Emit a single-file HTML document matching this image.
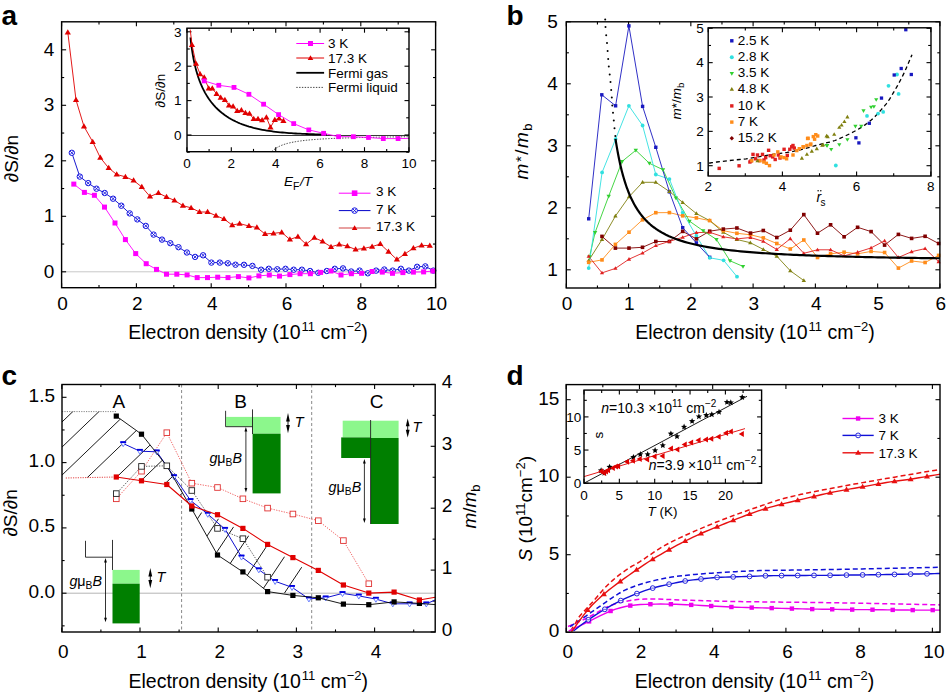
<!DOCTYPE html><html><head><meta charset="utf-8"><style>html,body{margin:0;padding:0;background:#fff;}svg{display:block;}</style></head><body>
<svg width="946" height="693" viewBox="0 0 946 693" font-family='"Liberation Sans", sans-serif'>
<rect width="946" height="693" fill="#fff"/>
<text x="1.5" y="25" font-size="28" text-anchor="start" font-weight="bold" font-style="normal" fill="#000" >a</text>
<line x1="61.6" y1="271.8" x2="435.6" y2="271.8" stroke="#c8c8c8" stroke-width="1" />
<line x1="61.6" y1="287.7" x2="61.6" y2="283.2" stroke="#000" stroke-width="1.1" />
<line x1="61.6" y1="21.8" x2="61.6" y2="26.3" stroke="#000" stroke-width="1.1" />
<line x1="136.4" y1="287.7" x2="136.4" y2="283.2" stroke="#000" stroke-width="1.1" />
<line x1="136.4" y1="21.8" x2="136.4" y2="26.3" stroke="#000" stroke-width="1.1" />
<line x1="211.2" y1="287.7" x2="211.2" y2="283.2" stroke="#000" stroke-width="1.1" />
<line x1="211.2" y1="21.8" x2="211.2" y2="26.3" stroke="#000" stroke-width="1.1" />
<line x1="286" y1="287.7" x2="286" y2="283.2" stroke="#000" stroke-width="1.1" />
<line x1="286" y1="21.8" x2="286" y2="26.3" stroke="#000" stroke-width="1.1" />
<line x1="360.8" y1="287.7" x2="360.8" y2="283.2" stroke="#000" stroke-width="1.1" />
<line x1="360.8" y1="21.8" x2="360.8" y2="26.3" stroke="#000" stroke-width="1.1" />
<line x1="435.6" y1="287.7" x2="435.6" y2="283.2" stroke="#000" stroke-width="1.1" />
<line x1="435.6" y1="21.8" x2="435.6" y2="26.3" stroke="#000" stroke-width="1.1" />
<line x1="99" y1="287.7" x2="99" y2="285.1" stroke="#000" stroke-width="1.1" />
<line x1="99" y1="21.8" x2="99" y2="24.4" stroke="#000" stroke-width="1.1" />
<line x1="173.8" y1="287.7" x2="173.8" y2="285.1" stroke="#000" stroke-width="1.1" />
<line x1="173.8" y1="21.8" x2="173.8" y2="24.4" stroke="#000" stroke-width="1.1" />
<line x1="248.6" y1="287.7" x2="248.6" y2="285.1" stroke="#000" stroke-width="1.1" />
<line x1="248.6" y1="21.8" x2="248.6" y2="24.4" stroke="#000" stroke-width="1.1" />
<line x1="323.4" y1="287.7" x2="323.4" y2="285.1" stroke="#000" stroke-width="1.1" />
<line x1="323.4" y1="21.8" x2="323.4" y2="24.4" stroke="#000" stroke-width="1.1" />
<line x1="398.2" y1="287.7" x2="398.2" y2="285.1" stroke="#000" stroke-width="1.1" />
<line x1="398.2" y1="21.8" x2="398.2" y2="24.4" stroke="#000" stroke-width="1.1" />
<line x1="61.6" y1="271.8" x2="66.1" y2="271.8" stroke="#000" stroke-width="1.1" />
<line x1="435.6" y1="271.8" x2="431.1" y2="271.8" stroke="#000" stroke-width="1.1" />
<line x1="61.6" y1="216.3" x2="66.1" y2="216.3" stroke="#000" stroke-width="1.1" />
<line x1="435.6" y1="216.3" x2="431.1" y2="216.3" stroke="#000" stroke-width="1.1" />
<line x1="61.6" y1="160.8" x2="66.1" y2="160.8" stroke="#000" stroke-width="1.1" />
<line x1="435.6" y1="160.8" x2="431.1" y2="160.8" stroke="#000" stroke-width="1.1" />
<line x1="61.6" y1="105.3" x2="66.1" y2="105.3" stroke="#000" stroke-width="1.1" />
<line x1="435.6" y1="105.3" x2="431.1" y2="105.3" stroke="#000" stroke-width="1.1" />
<line x1="61.6" y1="49.8" x2="66.1" y2="49.8" stroke="#000" stroke-width="1.1" />
<line x1="435.6" y1="49.8" x2="431.1" y2="49.8" stroke="#000" stroke-width="1.1" />
<line x1="61.6" y1="244.05" x2="64.2" y2="244.05" stroke="#000" stroke-width="1.1" />
<line x1="435.6" y1="244.05" x2="433" y2="244.05" stroke="#000" stroke-width="1.1" />
<line x1="61.6" y1="188.55" x2="64.2" y2="188.55" stroke="#000" stroke-width="1.1" />
<line x1="435.6" y1="188.55" x2="433" y2="188.55" stroke="#000" stroke-width="1.1" />
<line x1="61.6" y1="133.05" x2="64.2" y2="133.05" stroke="#000" stroke-width="1.1" />
<line x1="435.6" y1="133.05" x2="433" y2="133.05" stroke="#000" stroke-width="1.1" />
<line x1="61.6" y1="77.55" x2="64.2" y2="77.55" stroke="#000" stroke-width="1.1" />
<line x1="435.6" y1="77.55" x2="433" y2="77.55" stroke="#000" stroke-width="1.1" />
<text x="62.6" y="309.5" font-size="19" text-anchor="middle" font-weight="normal" font-style="normal" fill="#000" >0</text>
<text x="137.4" y="309.5" font-size="19" text-anchor="middle" font-weight="normal" font-style="normal" fill="#000" >2</text>
<text x="212.2" y="309.5" font-size="19" text-anchor="middle" font-weight="normal" font-style="normal" fill="#000" >4</text>
<text x="287" y="309.5" font-size="19" text-anchor="middle" font-weight="normal" font-style="normal" fill="#000" >6</text>
<text x="361.8" y="309.5" font-size="19" text-anchor="middle" font-weight="normal" font-style="normal" fill="#000" >8</text>
<text x="436.6" y="309.5" font-size="19" text-anchor="middle" font-weight="normal" font-style="normal" fill="#000" >10</text>
<text x="54.3" y="277.8" font-size="19" text-anchor="end" font-weight="normal" font-style="normal" fill="#000" >0</text>
<text x="54.3" y="222.3" font-size="19" text-anchor="end" font-weight="normal" font-style="normal" fill="#000" >1</text>
<text x="54.3" y="166.8" font-size="19" text-anchor="end" font-weight="normal" font-style="normal" fill="#000" >2</text>
<text x="54.3" y="111.3" font-size="19" text-anchor="end" font-weight="normal" font-style="normal" fill="#000" >3</text>
<text x="54.3" y="55.8" font-size="19" text-anchor="end" font-weight="normal" font-style="normal" fill="#000" >4</text>
<text x="0" y="0" font-size="19" text-anchor="middle" font-weight="normal" font-style="normal" fill="#000" transform="translate(18.2,158.5) rotate(-90)"><tspan font-style="italic">∂</tspan>S/<tspan font-style="italic">∂</tspan>n</text>
<text x="248" y="338.5" font-size="19.5" text-anchor="middle">Electron density (10<tspan dx="1" dy="-8" font-size="13">11</tspan><tspan dy="8"> cm</tspan><tspan dy="-8" font-size="13">−2</tspan><tspan dy="8">)</tspan></text>
<polyline points="67.8,32.3 76,100 84,126.5 92.7,141.8 100.3,157.7 108.7,168 116.7,174.5 125.4,176.8 133.6,180.5 141.8,187 150,196.5 158.4,193 166.5,197 174.5,200.4 182.9,205.7 191.1,207.8 199.5,212 207.6,212 216,215.7 224,219 232.2,225.1 239.6,223.6 248.9,226 256.9,227.5 265.1,234 273.5,233.3 281.7,232.4 289.9,239.5 297.9,236.6 306.1,244.2 314.4,237.7 322.6,241.5 331,246.8 339.2,244.4 347.4,246.2 355.6,249.5 363.9,248.4 372.1,246.6 380.3,244 388.5,251.7 396.9,259.5 404.9,253.9 413.4,248.2 421.6,245.3 429.8,245.7" fill="none" stroke="#e00000" stroke-width="0.9" stroke-linejoin="round" />
<polyline points="71.8,152.8 79.8,176.6 88.2,183.1 96.5,188.7 104.7,193 113.1,198.7 121.3,205.7 129.7,213.4 137.3,219.4 145.8,225.9 153.6,234.6 162,239.6 170.3,243.2 178.5,247.2 186.9,252.5 195.1,256.9 203.1,255.3 211.4,262.6 219.8,262.6 227.8,263.3 235.5,264.7 244,264.8 252.4,265.9 261.1,269.7 268.8,268.8 277.3,269.3 285.5,268.8 293.7,269.7 301.9,269.7 310.1,271 318.3,272.8 326.8,271 334.8,268.8 343,268.4 351.2,271.5 359.6,270.6 367.8,273.3 376.1,270.6 384.3,269.5 392.7,270.6 400.9,268.8 408.9,270.6 417.1,266.8 425.3,266.4 433.3,270.6" fill="none" stroke="#0000c8" stroke-width="0.9" stroke-linejoin="round" />
<polyline points="73.8,184.1 84.4,192.4 94.4,195.3 104.5,207.1 115,223 125.4,239.6 135.7,253.6 146.2,263.7 156.5,269.4 166.5,274.2 176.8,274.2 187.1,274.9 197.2,277.6 207.5,277.6 217.7,277.2 228,277.6 238.4,276.6 248.9,277.9 258.9,275.9 269.3,275 279.5,276.1 289.9,274.6 300.1,273.7 310.4,273.7 320.6,272.4 331,271 341,275 351.4,273.7 361.6,273.3 372.1,271.5 382.3,272.1 392.5,273.3 402.9,272.6 413.4,272.1 423.6,271.9 432.9,271" fill="none" stroke="#ff00ff" stroke-width="0.9" stroke-linejoin="round" />
<path d="M67.8,29.14 L70.9,34.41 L64.7,34.41 Z" stroke="none" stroke-width="1" fill="#e00000" />
<path d="M76,96.84 L79.1,102.11 L72.9,102.11 Z" stroke="none" stroke-width="1" fill="#e00000" />
<path d="M84,123.34 L87.1,128.61 L80.9,128.61 Z" stroke="none" stroke-width="1" fill="#e00000" />
<path d="M92.7,138.64 L95.8,143.91 L89.6,143.91 Z" stroke="none" stroke-width="1" fill="#e00000" />
<path d="M100.3,154.54 L103.4,159.81 L97.2,159.81 Z" stroke="none" stroke-width="1" fill="#e00000" />
<path d="M108.7,164.84 L111.8,170.11 L105.6,170.11 Z" stroke="none" stroke-width="1" fill="#e00000" />
<path d="M116.7,171.34 L119.8,176.61 L113.6,176.61 Z" stroke="none" stroke-width="1" fill="#e00000" />
<path d="M125.4,173.64 L128.5,178.91 L122.3,178.91 Z" stroke="none" stroke-width="1" fill="#e00000" />
<path d="M133.6,177.34 L136.7,182.61 L130.5,182.61 Z" stroke="none" stroke-width="1" fill="#e00000" />
<path d="M141.8,183.84 L144.9,189.11 L138.7,189.11 Z" stroke="none" stroke-width="1" fill="#e00000" />
<path d="M150,193.34 L153.1,198.61 L146.9,198.61 Z" stroke="none" stroke-width="1" fill="#e00000" />
<path d="M158.4,189.84 L161.5,195.11 L155.3,195.11 Z" stroke="none" stroke-width="1" fill="#e00000" />
<path d="M166.5,193.84 L169.6,199.11 L163.4,199.11 Z" stroke="none" stroke-width="1" fill="#e00000" />
<path d="M174.5,197.24 L177.6,202.51 L171.4,202.51 Z" stroke="none" stroke-width="1" fill="#e00000" />
<path d="M182.9,202.54 L186,207.81 L179.8,207.81 Z" stroke="none" stroke-width="1" fill="#e00000" />
<path d="M191.1,204.64 L194.2,209.91 L188,209.91 Z" stroke="none" stroke-width="1" fill="#e00000" />
<path d="M199.5,208.84 L202.6,214.11 L196.4,214.11 Z" stroke="none" stroke-width="1" fill="#e00000" />
<path d="M207.6,208.84 L210.7,214.11 L204.5,214.11 Z" stroke="none" stroke-width="1" fill="#e00000" />
<path d="M216,212.54 L219.1,217.81 L212.9,217.81 Z" stroke="none" stroke-width="1" fill="#e00000" />
<path d="M224,215.84 L227.1,221.11 L220.9,221.11 Z" stroke="none" stroke-width="1" fill="#e00000" />
<path d="M232.2,221.94 L235.3,227.21 L229.1,227.21 Z" stroke="none" stroke-width="1" fill="#e00000" />
<path d="M239.6,220.44 L242.7,225.71 L236.5,225.71 Z" stroke="none" stroke-width="1" fill="#e00000" />
<path d="M248.9,222.84 L252,228.11 L245.8,228.11 Z" stroke="none" stroke-width="1" fill="#e00000" />
<path d="M256.9,224.34 L260,229.61 L253.8,229.61 Z" stroke="none" stroke-width="1" fill="#e00000" />
<path d="M265.1,230.84 L268.2,236.11 L262,236.11 Z" stroke="none" stroke-width="1" fill="#e00000" />
<path d="M273.5,230.14 L276.6,235.41 L270.4,235.41 Z" stroke="none" stroke-width="1" fill="#e00000" />
<path d="M281.7,229.24 L284.8,234.51 L278.6,234.51 Z" stroke="none" stroke-width="1" fill="#e00000" />
<path d="M289.9,236.34 L293,241.61 L286.8,241.61 Z" stroke="none" stroke-width="1" fill="#e00000" />
<path d="M297.9,233.44 L301,238.71 L294.8,238.71 Z" stroke="none" stroke-width="1" fill="#e00000" />
<path d="M306.1,241.04 L309.2,246.31 L303,246.31 Z" stroke="none" stroke-width="1" fill="#e00000" />
<path d="M314.4,234.54 L317.5,239.81 L311.3,239.81 Z" stroke="none" stroke-width="1" fill="#e00000" />
<path d="M322.6,238.34 L325.7,243.61 L319.5,243.61 Z" stroke="none" stroke-width="1" fill="#e00000" />
<path d="M331,243.64 L334.1,248.91 L327.9,248.91 Z" stroke="none" stroke-width="1" fill="#e00000" />
<path d="M339.2,241.24 L342.3,246.51 L336.1,246.51 Z" stroke="none" stroke-width="1" fill="#e00000" />
<path d="M347.4,243.04 L350.5,248.31 L344.3,248.31 Z" stroke="none" stroke-width="1" fill="#e00000" />
<path d="M355.6,246.34 L358.7,251.61 L352.5,251.61 Z" stroke="none" stroke-width="1" fill="#e00000" />
<path d="M363.9,245.24 L367,250.51 L360.8,250.51 Z" stroke="none" stroke-width="1" fill="#e00000" />
<path d="M372.1,243.44 L375.2,248.71 L369,248.71 Z" stroke="none" stroke-width="1" fill="#e00000" />
<path d="M380.3,240.84 L383.4,246.11 L377.2,246.11 Z" stroke="none" stroke-width="1" fill="#e00000" />
<path d="M388.5,248.54 L391.6,253.81 L385.4,253.81 Z" stroke="none" stroke-width="1" fill="#e00000" />
<path d="M396.9,256.34 L400,261.61 L393.8,261.61 Z" stroke="none" stroke-width="1" fill="#e00000" />
<path d="M404.9,250.74 L408,256.01 L401.8,256.01 Z" stroke="none" stroke-width="1" fill="#e00000" />
<path d="M413.4,245.04 L416.5,250.31 L410.3,250.31 Z" stroke="none" stroke-width="1" fill="#e00000" />
<path d="M421.6,242.14 L424.7,247.41 L418.5,247.41 Z" stroke="none" stroke-width="1" fill="#e00000" />
<path d="M429.8,242.54 L432.9,247.81 L426.7,247.81 Z" stroke="none" stroke-width="1" fill="#e00000" />
<circle cx="71.8" cy="152.8" r="2.7" fill="#fff" stroke="#1010e0" stroke-width="1.0"/>
<path d="M70.13,151.13L73.47,154.47M73.47,151.13L70.13,154.47" stroke="#1010e0" stroke-width="0.9" fill="none" />
<circle cx="79.8" cy="176.6" r="2.7" fill="#fff" stroke="#1010e0" stroke-width="1.0"/>
<path d="M78.13,174.93L81.47,178.27M81.47,174.93L78.13,178.27" stroke="#1010e0" stroke-width="0.9" fill="none" />
<circle cx="88.2" cy="183.1" r="2.7" fill="#fff" stroke="#1010e0" stroke-width="1.0"/>
<path d="M86.53,181.43L89.87,184.77M89.87,181.43L86.53,184.77" stroke="#1010e0" stroke-width="0.9" fill="none" />
<circle cx="96.5" cy="188.7" r="2.7" fill="#fff" stroke="#1010e0" stroke-width="1.0"/>
<path d="M94.83,187.03L98.17,190.37M98.17,187.03L94.83,190.37" stroke="#1010e0" stroke-width="0.9" fill="none" />
<circle cx="104.7" cy="193" r="2.7" fill="#fff" stroke="#1010e0" stroke-width="1.0"/>
<path d="M103.03,191.33L106.37,194.67M106.37,191.33L103.03,194.67" stroke="#1010e0" stroke-width="0.9" fill="none" />
<circle cx="113.1" cy="198.7" r="2.7" fill="#fff" stroke="#1010e0" stroke-width="1.0"/>
<path d="M111.43,197.03L114.77,200.37M114.77,197.03L111.43,200.37" stroke="#1010e0" stroke-width="0.9" fill="none" />
<circle cx="121.3" cy="205.7" r="2.7" fill="#fff" stroke="#1010e0" stroke-width="1.0"/>
<path d="M119.63,204.03L122.97,207.37M122.97,204.03L119.63,207.37" stroke="#1010e0" stroke-width="0.9" fill="none" />
<circle cx="129.7" cy="213.4" r="2.7" fill="#fff" stroke="#1010e0" stroke-width="1.0"/>
<path d="M128.03,211.73L131.37,215.07M131.37,211.73L128.03,215.07" stroke="#1010e0" stroke-width="0.9" fill="none" />
<circle cx="137.3" cy="219.4" r="2.7" fill="#fff" stroke="#1010e0" stroke-width="1.0"/>
<path d="M135.63,217.73L138.97,221.07M138.97,217.73L135.63,221.07" stroke="#1010e0" stroke-width="0.9" fill="none" />
<circle cx="145.8" cy="225.9" r="2.7" fill="#fff" stroke="#1010e0" stroke-width="1.0"/>
<path d="M144.13,224.23L147.47,227.57M147.47,224.23L144.13,227.57" stroke="#1010e0" stroke-width="0.9" fill="none" />
<circle cx="153.6" cy="234.6" r="2.7" fill="#fff" stroke="#1010e0" stroke-width="1.0"/>
<path d="M151.93,232.93L155.27,236.27M155.27,232.93L151.93,236.27" stroke="#1010e0" stroke-width="0.9" fill="none" />
<circle cx="162" cy="239.6" r="2.7" fill="#fff" stroke="#1010e0" stroke-width="1.0"/>
<path d="M160.33,237.93L163.67,241.27M163.67,237.93L160.33,241.27" stroke="#1010e0" stroke-width="0.9" fill="none" />
<circle cx="170.3" cy="243.2" r="2.7" fill="#fff" stroke="#1010e0" stroke-width="1.0"/>
<path d="M168.63,241.53L171.97,244.87M171.97,241.53L168.63,244.87" stroke="#1010e0" stroke-width="0.9" fill="none" />
<circle cx="178.5" cy="247.2" r="2.7" fill="#fff" stroke="#1010e0" stroke-width="1.0"/>
<path d="M176.83,245.53L180.17,248.87M180.17,245.53L176.83,248.87" stroke="#1010e0" stroke-width="0.9" fill="none" />
<circle cx="186.9" cy="252.5" r="2.7" fill="#fff" stroke="#1010e0" stroke-width="1.0"/>
<path d="M185.23,250.83L188.57,254.17M188.57,250.83L185.23,254.17" stroke="#1010e0" stroke-width="0.9" fill="none" />
<circle cx="195.1" cy="256.9" r="2.7" fill="#fff" stroke="#1010e0" stroke-width="1.0"/>
<path d="M193.43,255.23L196.77,258.57M196.77,255.23L193.43,258.57" stroke="#1010e0" stroke-width="0.9" fill="none" />
<circle cx="203.1" cy="255.3" r="2.7" fill="#fff" stroke="#1010e0" stroke-width="1.0"/>
<path d="M201.43,253.63L204.77,256.97M204.77,253.63L201.43,256.97" stroke="#1010e0" stroke-width="0.9" fill="none" />
<circle cx="211.4" cy="262.6" r="2.7" fill="#fff" stroke="#1010e0" stroke-width="1.0"/>
<path d="M209.73,260.93L213.07,264.27M213.07,260.93L209.73,264.27" stroke="#1010e0" stroke-width="0.9" fill="none" />
<circle cx="219.8" cy="262.6" r="2.7" fill="#fff" stroke="#1010e0" stroke-width="1.0"/>
<path d="M218.13,260.93L221.47,264.27M221.47,260.93L218.13,264.27" stroke="#1010e0" stroke-width="0.9" fill="none" />
<circle cx="227.8" cy="263.3" r="2.7" fill="#fff" stroke="#1010e0" stroke-width="1.0"/>
<path d="M226.13,261.63L229.47,264.97M229.47,261.63L226.13,264.97" stroke="#1010e0" stroke-width="0.9" fill="none" />
<circle cx="235.5" cy="264.7" r="2.7" fill="#fff" stroke="#1010e0" stroke-width="1.0"/>
<path d="M233.83,263.03L237.17,266.37M237.17,263.03L233.83,266.37" stroke="#1010e0" stroke-width="0.9" fill="none" />
<circle cx="244" cy="264.8" r="2.7" fill="#fff" stroke="#1010e0" stroke-width="1.0"/>
<path d="M242.33,263.13L245.67,266.47M245.67,263.13L242.33,266.47" stroke="#1010e0" stroke-width="0.9" fill="none" />
<circle cx="252.4" cy="265.9" r="2.7" fill="#fff" stroke="#1010e0" stroke-width="1.0"/>
<path d="M250.73,264.23L254.07,267.57M254.07,264.23L250.73,267.57" stroke="#1010e0" stroke-width="0.9" fill="none" />
<circle cx="261.1" cy="269.7" r="2.7" fill="#fff" stroke="#1010e0" stroke-width="1.0"/>
<path d="M259.43,268.03L262.77,271.37M262.77,268.03L259.43,271.37" stroke="#1010e0" stroke-width="0.9" fill="none" />
<circle cx="268.8" cy="268.8" r="2.7" fill="#fff" stroke="#1010e0" stroke-width="1.0"/>
<path d="M267.13,267.13L270.47,270.47M270.47,267.13L267.13,270.47" stroke="#1010e0" stroke-width="0.9" fill="none" />
<circle cx="277.3" cy="269.3" r="2.7" fill="#fff" stroke="#1010e0" stroke-width="1.0"/>
<path d="M275.63,267.63L278.97,270.97M278.97,267.63L275.63,270.97" stroke="#1010e0" stroke-width="0.9" fill="none" />
<circle cx="285.5" cy="268.8" r="2.7" fill="#fff" stroke="#1010e0" stroke-width="1.0"/>
<path d="M283.83,267.13L287.17,270.47M287.17,267.13L283.83,270.47" stroke="#1010e0" stroke-width="0.9" fill="none" />
<circle cx="293.7" cy="269.7" r="2.7" fill="#fff" stroke="#1010e0" stroke-width="1.0"/>
<path d="M292.03,268.03L295.37,271.37M295.37,268.03L292.03,271.37" stroke="#1010e0" stroke-width="0.9" fill="none" />
<circle cx="301.9" cy="269.7" r="2.7" fill="#fff" stroke="#1010e0" stroke-width="1.0"/>
<path d="M300.23,268.03L303.57,271.37M303.57,268.03L300.23,271.37" stroke="#1010e0" stroke-width="0.9" fill="none" />
<circle cx="310.1" cy="271" r="2.7" fill="#fff" stroke="#1010e0" stroke-width="1.0"/>
<path d="M308.43,269.33L311.77,272.67M311.77,269.33L308.43,272.67" stroke="#1010e0" stroke-width="0.9" fill="none" />
<circle cx="318.3" cy="272.8" r="2.7" fill="#fff" stroke="#1010e0" stroke-width="1.0"/>
<path d="M316.63,271.13L319.97,274.47M319.97,271.13L316.63,274.47" stroke="#1010e0" stroke-width="0.9" fill="none" />
<circle cx="326.8" cy="271" r="2.7" fill="#fff" stroke="#1010e0" stroke-width="1.0"/>
<path d="M325.13,269.33L328.47,272.67M328.47,269.33L325.13,272.67" stroke="#1010e0" stroke-width="0.9" fill="none" />
<circle cx="334.8" cy="268.8" r="2.7" fill="#fff" stroke="#1010e0" stroke-width="1.0"/>
<path d="M333.13,267.13L336.47,270.47M336.47,267.13L333.13,270.47" stroke="#1010e0" stroke-width="0.9" fill="none" />
<circle cx="343" cy="268.4" r="2.7" fill="#fff" stroke="#1010e0" stroke-width="1.0"/>
<path d="M341.33,266.73L344.67,270.07M344.67,266.73L341.33,270.07" stroke="#1010e0" stroke-width="0.9" fill="none" />
<circle cx="351.2" cy="271.5" r="2.7" fill="#fff" stroke="#1010e0" stroke-width="1.0"/>
<path d="M349.53,269.83L352.87,273.17M352.87,269.83L349.53,273.17" stroke="#1010e0" stroke-width="0.9" fill="none" />
<circle cx="359.6" cy="270.6" r="2.7" fill="#fff" stroke="#1010e0" stroke-width="1.0"/>
<path d="M357.93,268.93L361.27,272.27M361.27,268.93L357.93,272.27" stroke="#1010e0" stroke-width="0.9" fill="none" />
<circle cx="367.8" cy="273.3" r="2.7" fill="#fff" stroke="#1010e0" stroke-width="1.0"/>
<path d="M366.13,271.63L369.47,274.97M369.47,271.63L366.13,274.97" stroke="#1010e0" stroke-width="0.9" fill="none" />
<circle cx="376.1" cy="270.6" r="2.7" fill="#fff" stroke="#1010e0" stroke-width="1.0"/>
<path d="M374.43,268.93L377.77,272.27M377.77,268.93L374.43,272.27" stroke="#1010e0" stroke-width="0.9" fill="none" />
<circle cx="384.3" cy="269.5" r="2.7" fill="#fff" stroke="#1010e0" stroke-width="1.0"/>
<path d="M382.63,267.83L385.97,271.17M385.97,267.83L382.63,271.17" stroke="#1010e0" stroke-width="0.9" fill="none" />
<circle cx="392.7" cy="270.6" r="2.7" fill="#fff" stroke="#1010e0" stroke-width="1.0"/>
<path d="M391.03,268.93L394.37,272.27M394.37,268.93L391.03,272.27" stroke="#1010e0" stroke-width="0.9" fill="none" />
<circle cx="400.9" cy="268.8" r="2.7" fill="#fff" stroke="#1010e0" stroke-width="1.0"/>
<path d="M399.23,267.13L402.57,270.47M402.57,267.13L399.23,270.47" stroke="#1010e0" stroke-width="0.9" fill="none" />
<circle cx="408.9" cy="270.6" r="2.7" fill="#fff" stroke="#1010e0" stroke-width="1.0"/>
<path d="M407.23,268.93L410.57,272.27M410.57,268.93L407.23,272.27" stroke="#1010e0" stroke-width="0.9" fill="none" />
<circle cx="417.1" cy="266.8" r="2.7" fill="#fff" stroke="#1010e0" stroke-width="1.0"/>
<path d="M415.43,265.13L418.77,268.47M418.77,265.13L415.43,268.47" stroke="#1010e0" stroke-width="0.9" fill="none" />
<circle cx="425.3" cy="266.4" r="2.7" fill="#fff" stroke="#1010e0" stroke-width="1.0"/>
<path d="M423.63,264.73L426.97,268.07M426.97,264.73L423.63,268.07" stroke="#1010e0" stroke-width="0.9" fill="none" />
<circle cx="433.3" cy="270.6" r="2.7" fill="#fff" stroke="#1010e0" stroke-width="1.0"/>
<path d="M431.63,268.93L434.97,272.27M434.97,268.93L431.63,272.27" stroke="#1010e0" stroke-width="0.9" fill="none" />
<rect x="71.3" y="181.6" width="5" height="5" fill="#ff00ff" stroke="none" stroke-width="0.8"/>
<rect x="81.9" y="189.9" width="5" height="5" fill="#ff00ff" stroke="none" stroke-width="0.8"/>
<rect x="91.9" y="192.8" width="5" height="5" fill="#ff00ff" stroke="none" stroke-width="0.8"/>
<rect x="102" y="204.6" width="5" height="5" fill="#ff00ff" stroke="none" stroke-width="0.8"/>
<rect x="112.5" y="220.5" width="5" height="5" fill="#ff00ff" stroke="none" stroke-width="0.8"/>
<rect x="122.9" y="237.1" width="5" height="5" fill="#ff00ff" stroke="none" stroke-width="0.8"/>
<rect x="133.2" y="251.1" width="5" height="5" fill="#ff00ff" stroke="none" stroke-width="0.8"/>
<rect x="143.7" y="261.2" width="5" height="5" fill="#ff00ff" stroke="none" stroke-width="0.8"/>
<rect x="154" y="266.9" width="5" height="5" fill="#ff00ff" stroke="none" stroke-width="0.8"/>
<rect x="164" y="271.7" width="5" height="5" fill="#ff00ff" stroke="none" stroke-width="0.8"/>
<rect x="174.3" y="271.7" width="5" height="5" fill="#ff00ff" stroke="none" stroke-width="0.8"/>
<rect x="184.6" y="272.4" width="5" height="5" fill="#ff00ff" stroke="none" stroke-width="0.8"/>
<rect x="194.7" y="275.1" width="5" height="5" fill="#ff00ff" stroke="none" stroke-width="0.8"/>
<rect x="205" y="275.1" width="5" height="5" fill="#ff00ff" stroke="none" stroke-width="0.8"/>
<rect x="215.2" y="274.7" width="5" height="5" fill="#ff00ff" stroke="none" stroke-width="0.8"/>
<rect x="225.5" y="275.1" width="5" height="5" fill="#ff00ff" stroke="none" stroke-width="0.8"/>
<rect x="235.9" y="274.1" width="5" height="5" fill="#ff00ff" stroke="none" stroke-width="0.8"/>
<rect x="246.4" y="275.4" width="5" height="5" fill="#ff00ff" stroke="none" stroke-width="0.8"/>
<rect x="256.4" y="273.4" width="5" height="5" fill="#ff00ff" stroke="none" stroke-width="0.8"/>
<rect x="266.8" y="272.5" width="5" height="5" fill="#ff00ff" stroke="none" stroke-width="0.8"/>
<rect x="277" y="273.6" width="5" height="5" fill="#ff00ff" stroke="none" stroke-width="0.8"/>
<rect x="287.4" y="272.1" width="5" height="5" fill="#ff00ff" stroke="none" stroke-width="0.8"/>
<rect x="297.6" y="271.2" width="5" height="5" fill="#ff00ff" stroke="none" stroke-width="0.8"/>
<rect x="307.9" y="271.2" width="5" height="5" fill="#ff00ff" stroke="none" stroke-width="0.8"/>
<rect x="318.1" y="269.9" width="5" height="5" fill="#ff00ff" stroke="none" stroke-width="0.8"/>
<rect x="328.5" y="268.5" width="5" height="5" fill="#ff00ff" stroke="none" stroke-width="0.8"/>
<rect x="338.5" y="272.5" width="5" height="5" fill="#ff00ff" stroke="none" stroke-width="0.8"/>
<rect x="348.9" y="271.2" width="5" height="5" fill="#ff00ff" stroke="none" stroke-width="0.8"/>
<rect x="359.1" y="270.8" width="5" height="5" fill="#ff00ff" stroke="none" stroke-width="0.8"/>
<rect x="369.6" y="269" width="5" height="5" fill="#ff00ff" stroke="none" stroke-width="0.8"/>
<rect x="379.8" y="269.6" width="5" height="5" fill="#ff00ff" stroke="none" stroke-width="0.8"/>
<rect x="390" y="270.8" width="5" height="5" fill="#ff00ff" stroke="none" stroke-width="0.8"/>
<rect x="400.4" y="270.1" width="5" height="5" fill="#ff00ff" stroke="none" stroke-width="0.8"/>
<rect x="410.9" y="269.6" width="5" height="5" fill="#ff00ff" stroke="none" stroke-width="0.8"/>
<rect x="421.1" y="269.4" width="5" height="5" fill="#ff00ff" stroke="none" stroke-width="0.8"/>
<rect x="430.4" y="268.5" width="5" height="5" fill="#ff00ff" stroke="none" stroke-width="0.8"/>
<line x1="338.8" y1="193.2" x2="370.5" y2="193.2" stroke="#ff00ff" stroke-width="1" />
<rect x="351.8" y="190.4" width="5.6" height="5.6" fill="#ff00ff" stroke="none" stroke-width="0.8"/>
<text x="376" y="196.1" font-size="13.5" text-anchor="start" font-weight="normal" font-style="normal" fill="#000" >3 K</text>
<line x1="338.8" y1="210.6" x2="370.5" y2="210.6" stroke="#0000c8" stroke-width="1" />
<circle cx="354.6" cy="210.6" r="2.8" fill="#fff" stroke="#1010e0" stroke-width="1.0"/>
<path d="M352.86,208.86L356.34,212.34M356.34,208.86L352.86,212.34" stroke="#1010e0" stroke-width="0.9" fill="none" />
<text x="376" y="213.5" font-size="13.5" text-anchor="start" font-weight="normal" font-style="normal" fill="#000" >7 K</text>
<line x1="338.8" y1="228" x2="370.5" y2="228" stroke="#e08080" stroke-width="1.6" />
<path d="M354.6,225.14 L357.4,229.9 L351.8,229.9 Z" stroke="none" stroke-width="1" fill="#e00000" />
<text x="376" y="230.9" font-size="13.5" text-anchor="start" font-weight="normal" font-style="normal" fill="#000" >17.3 K</text>
<rect x="187" y="28.2" width="222" height="123.5" fill="#fff" stroke="none" stroke-width="1"/>
<line x1="187" y1="135.5" x2="409" y2="135.5" stroke="#222" stroke-width="0.9" />
<line x1="186.9" y1="151.7" x2="186.9" y2="147.2" stroke="#000" stroke-width="1.1" />
<line x1="186.9" y1="28.2" x2="186.9" y2="32.7" stroke="#000" stroke-width="1.1" />
<line x1="231.3" y1="151.7" x2="231.3" y2="147.2" stroke="#000" stroke-width="1.1" />
<line x1="231.3" y1="28.2" x2="231.3" y2="32.7" stroke="#000" stroke-width="1.1" />
<line x1="275.7" y1="151.7" x2="275.7" y2="147.2" stroke="#000" stroke-width="1.1" />
<line x1="275.7" y1="28.2" x2="275.7" y2="32.7" stroke="#000" stroke-width="1.1" />
<line x1="320.1" y1="151.7" x2="320.1" y2="147.2" stroke="#000" stroke-width="1.1" />
<line x1="320.1" y1="28.2" x2="320.1" y2="32.7" stroke="#000" stroke-width="1.1" />
<line x1="364.5" y1="151.7" x2="364.5" y2="147.2" stroke="#000" stroke-width="1.1" />
<line x1="364.5" y1="28.2" x2="364.5" y2="32.7" stroke="#000" stroke-width="1.1" />
<line x1="408.9" y1="151.7" x2="408.9" y2="147.2" stroke="#000" stroke-width="1.1" />
<line x1="408.9" y1="28.2" x2="408.9" y2="32.7" stroke="#000" stroke-width="1.1" />
<line x1="209.1" y1="151.7" x2="209.1" y2="148.9" stroke="#000" stroke-width="1.1" />
<line x1="209.1" y1="28.2" x2="209.1" y2="31" stroke="#000" stroke-width="1.1" />
<line x1="253.5" y1="151.7" x2="253.5" y2="148.9" stroke="#000" stroke-width="1.1" />
<line x1="253.5" y1="28.2" x2="253.5" y2="31" stroke="#000" stroke-width="1.1" />
<line x1="297.9" y1="151.7" x2="297.9" y2="148.9" stroke="#000" stroke-width="1.1" />
<line x1="297.9" y1="28.2" x2="297.9" y2="31" stroke="#000" stroke-width="1.1" />
<line x1="342.3" y1="151.7" x2="342.3" y2="148.9" stroke="#000" stroke-width="1.1" />
<line x1="342.3" y1="28.2" x2="342.3" y2="31" stroke="#000" stroke-width="1.1" />
<line x1="386.7" y1="151.7" x2="386.7" y2="148.9" stroke="#000" stroke-width="1.1" />
<line x1="386.7" y1="28.2" x2="386.7" y2="31" stroke="#000" stroke-width="1.1" />
<line x1="187" y1="135" x2="191.5" y2="135" stroke="#000" stroke-width="1.1" />
<line x1="409" y1="135" x2="404.5" y2="135" stroke="#000" stroke-width="1.1" />
<line x1="187" y1="100.6" x2="191.5" y2="100.6" stroke="#000" stroke-width="1.1" />
<line x1="409" y1="100.6" x2="404.5" y2="100.6" stroke="#000" stroke-width="1.1" />
<line x1="187" y1="66.2" x2="191.5" y2="66.2" stroke="#000" stroke-width="1.1" />
<line x1="409" y1="66.2" x2="404.5" y2="66.2" stroke="#000" stroke-width="1.1" />
<line x1="187" y1="31.8" x2="191.5" y2="31.8" stroke="#000" stroke-width="1.1" />
<line x1="409" y1="31.8" x2="404.5" y2="31.8" stroke="#000" stroke-width="1.1" />
<line x1="187" y1="152.2" x2="189.8" y2="152.2" stroke="#000" stroke-width="1.1" />
<line x1="409" y1="152.2" x2="406.2" y2="152.2" stroke="#000" stroke-width="1.1" />
<line x1="187" y1="117.8" x2="189.8" y2="117.8" stroke="#000" stroke-width="1.1" />
<line x1="409" y1="117.8" x2="406.2" y2="117.8" stroke="#000" stroke-width="1.1" />
<line x1="187" y1="83.4" x2="189.8" y2="83.4" stroke="#000" stroke-width="1.1" />
<line x1="409" y1="83.4" x2="406.2" y2="83.4" stroke="#000" stroke-width="1.1" />
<line x1="187" y1="49" x2="189.8" y2="49" stroke="#000" stroke-width="1.1" />
<line x1="409" y1="49" x2="406.2" y2="49" stroke="#000" stroke-width="1.1" />
<text x="186.9" y="167.6" font-size="13.5" text-anchor="middle" font-weight="normal" font-style="normal" fill="#000" >0</text>
<text x="231.3" y="167.6" font-size="13.5" text-anchor="middle" font-weight="normal" font-style="normal" fill="#000" >2</text>
<text x="275.7" y="167.6" font-size="13.5" text-anchor="middle" font-weight="normal" font-style="normal" fill="#000" >4</text>
<text x="320.1" y="167.6" font-size="13.5" text-anchor="middle" font-weight="normal" font-style="normal" fill="#000" >6</text>
<text x="364.5" y="167.6" font-size="13.5" text-anchor="middle" font-weight="normal" font-style="normal" fill="#000" >8</text>
<text x="408.9" y="167.6" font-size="13.5" text-anchor="middle" font-weight="normal" font-style="normal" fill="#000" >10</text>
<text x="181.5" y="139.8" font-size="13.5" text-anchor="end" font-weight="normal" font-style="normal" fill="#000" >0</text>
<text x="181.5" y="105.4" font-size="13.5" text-anchor="end" font-weight="normal" font-style="normal" fill="#000" >1</text>
<text x="181.5" y="71" font-size="13.5" text-anchor="end" font-weight="normal" font-style="normal" fill="#000" >2</text>
<text x="181.5" y="36.6" font-size="13.5" text-anchor="end" font-weight="normal" font-style="normal" fill="#000" >3</text>
<text x="0" y="0" font-size="13.5" text-anchor="middle" font-weight="normal" font-style="normal" fill="#000" transform="translate(164.5,90.6) rotate(-90)"><tspan font-style="italic">∂</tspan>S/<tspan font-style="italic">∂</tspan>n</text>
<text x="298" y="186" font-size="13.5" text-anchor="middle" font-style="italic">E<tspan dy="3.5" font-size="10.5" font-style="normal">F</tspan><tspan dy="-3.5" dx="0.5">/T</tspan></text>
<polyline points="190.45,37.52 190.9,41.56 191.34,45.18 191.78,48.44 192.23,51.42 192.67,54.16 193.12,56.7 193.56,59.05 194,61.26 194.45,63.32 194.89,65.27 195.34,67.11 195.78,68.85 196.22,70.51 196.67,72.08 197.11,73.59 197.56,75.02 198,76.4 198.44,77.72 198.89,78.99 199.33,80.21 199.78,81.38 200.22,82.52 200.66,83.61 201.11,84.67 201.55,85.69 202,86.68 202.44,87.64 202.88,88.57 203.33,89.47 203.77,90.34 204.22,91.19 204.66,92.02 205.1,92.83 205.55,93.61 205.99,94.37 206.44,95.11 206.88,95.84 207.32,96.54 207.77,97.23 208.21,97.9 208.66,98.56 209.1,99.2 211.32,102.2 213.54,104.88 215.76,107.3 217.98,109.5 220.2,111.49 222.42,113.32 224.64,114.99 226.86,116.52 229.08,117.93 231.3,119.23 233.52,120.43 235.74,121.53 237.96,122.55 240.18,123.49 242.4,124.36 244.62,125.17 246.84,125.92 249.06,126.61 251.28,127.24 253.5,127.84 255.72,128.38 257.94,128.89 260.16,129.36 262.38,129.79 264.6,130.2 266.82,130.57 269.04,130.91 271.26,131.23 273.48,131.52 275.7,131.8 277.92,132.05 280.14,132.28 282.36,132.5 284.58,132.69 286.8,132.88 289.02,133.05 291.24,133.2 293.46,133.35 295.68,133.48 297.9,133.6 300.12,133.71 302.34,133.82 304.56,133.91 306.78,134 309,134.08 311.22,134.16 313.44,134.23 315.66,134.29 317.88,134.35 320.1,134.4 322.32,134.45 324.54,134.5 326.76,134.54" fill="none" stroke="#000" stroke-width="1.8" stroke-linejoin="round" />
<polyline points="271.93,151.58 273.04,150.5 274.15,149.56 275.26,148.72 276.37,147.97 277.48,147.31 278.59,146.7 279.7,146.16 280.81,145.66 281.92,145.2 283.03,144.78 284.14,144.4 285.25,144.04 286.36,143.71 287.47,143.41 288.58,143.12 289.69,142.85 290.8,142.6 291.91,142.37 293.02,142.15 294.13,141.94 295.24,141.74 296.35,141.56 297.46,141.38 298.57,141.22 299.68,141.06 300.79,140.91 301.9,140.77 303.01,140.63 304.12,140.5 305.23,140.38 306.34,140.26 307.45,140.15 308.56,140.04 309.67,139.93 310.78,139.83 311.89,139.74 313,139.64 314.11,139.56 315.22,139.47 316.33,139.39 317.44,139.31 318.55,139.23 319.66,139.16 320.77,139.09 321.88,139.02 322.99,138.95 324.1,138.89 325.21,138.83 326.32,138.77 327.43,138.71 328.54,138.65 329.65,138.6 330.76,138.54 331.87,138.49 332.98,138.44 334.09,138.39 335.2,138.34 336.31,138.3 337.42,138.25 338.53,138.21 339.64,138.17 340.75,138.12 341.86,138.08 342.97,138.05 344.08,138.01 345.19,137.97 346.3,137.93 347.41,137.9 348.52,137.86 349.63,137.83 350.74,137.8 351.85,137.76 352.96,137.73 354.07,137.7 355.18,137.67 356.29,137.64 357.4,137.61 358.51,137.58 359.62,137.56 360.73,137.53 361.84,137.5 362.95,137.48 364.06,137.45 365.17,137.43 366.28,137.4 367.39,137.38 368.5,137.35 369.61,137.33 370.72,137.31 371.83,137.29 372.94,137.27 374.05,137.24 375.16,137.22 376.27,137.2 377.38,137.18 378.49,137.16 379.6,137.14 380.71,137.12 381.82,137.11 382.93,137.09 384.04,137.07 385.15,137.05 386.26,137.03 387.37,137.02 388.48,137 389.59,136.98 390.7,136.97 391.81,136.95 392.92,136.93 394.03,136.92 395.14,136.9 396.25,136.89 397.36,136.87 398.47,136.86 399.58,136.84 400.69,136.83 401.8,136.82 402.91,136.8 404.02,136.79 405.13,136.78 406.24,136.76 407.35,136.75 408.46,136.74" fill="none" stroke="#444" stroke-width="1.0" stroke-dasharray="1.4 1.4" stroke-linejoin="round" />
<polyline points="190.2,29.5 192,44.9 196,63.6 200.1,74.2 204.2,77.4 208.7,88.5 212.3,88.5 216.6,93.9 220.7,97.6 224.9,99.9 229,105.4 233.1,106.4 237.2,111 241.4,110.2 245.4,112.9 249.5,113.6 253.7,119 258,119 262.1,120.1 266.4,117.4 270.5,127.3 274.8,119.8 279.1,118.5 283.4,120.8" fill="none" stroke="#e00000" stroke-width="0.9" stroke-linejoin="round" />
<polyline points="204.2,80.9 218.8,85.3 234,87.4 248.9,94.3 263.6,104.2 278.6,114.6 293.7,123.6 308.8,129.9 323.6,133.3 338.6,136.7 353.4,136.7 368.5,137.5 383.3,138.6 398.1,138.6 409,138.4" fill="none" stroke="#ff00ff" stroke-width="0.9" stroke-linejoin="round" />
<path d="M192,41.74 L195.1,47.01 L188.9,47.01 Z" stroke="none" stroke-width="1" fill="#e00000" />
<path d="M196,60.44 L199.1,65.71 L192.9,65.71 Z" stroke="none" stroke-width="1" fill="#e00000" />
<path d="M200.1,71.04 L203.2,76.31 L197,76.31 Z" stroke="none" stroke-width="1" fill="#e00000" />
<path d="M204.2,74.24 L207.3,79.51 L201.1,79.51 Z" stroke="none" stroke-width="1" fill="#e00000" />
<path d="M208.7,85.34 L211.8,90.61 L205.6,90.61 Z" stroke="none" stroke-width="1" fill="#e00000" />
<path d="M212.3,85.34 L215.4,90.61 L209.2,90.61 Z" stroke="none" stroke-width="1" fill="#e00000" />
<path d="M216.6,90.74 L219.7,96.01 L213.5,96.01 Z" stroke="none" stroke-width="1" fill="#e00000" />
<path d="M220.7,94.44 L223.8,99.71 L217.6,99.71 Z" stroke="none" stroke-width="1" fill="#e00000" />
<path d="M224.9,96.74 L228,102.01 L221.8,102.01 Z" stroke="none" stroke-width="1" fill="#e00000" />
<path d="M229,102.24 L232.1,107.51 L225.9,107.51 Z" stroke="none" stroke-width="1" fill="#e00000" />
<path d="M233.1,103.24 L236.2,108.51 L230,108.51 Z" stroke="none" stroke-width="1" fill="#e00000" />
<path d="M237.2,107.84 L240.3,113.11 L234.1,113.11 Z" stroke="none" stroke-width="1" fill="#e00000" />
<path d="M241.4,107.04 L244.5,112.31 L238.3,112.31 Z" stroke="none" stroke-width="1" fill="#e00000" />
<path d="M245.4,109.74 L248.5,115.01 L242.3,115.01 Z" stroke="none" stroke-width="1" fill="#e00000" />
<path d="M249.5,110.44 L252.6,115.71 L246.4,115.71 Z" stroke="none" stroke-width="1" fill="#e00000" />
<path d="M253.7,115.84 L256.8,121.11 L250.6,121.11 Z" stroke="none" stroke-width="1" fill="#e00000" />
<path d="M258,115.84 L261.1,121.11 L254.9,121.11 Z" stroke="none" stroke-width="1" fill="#e00000" />
<path d="M262.1,116.94 L265.2,122.21 L259,122.21 Z" stroke="none" stroke-width="1" fill="#e00000" />
<path d="M266.4,114.24 L269.5,119.51 L263.3,119.51 Z" stroke="none" stroke-width="1" fill="#e00000" />
<path d="M270.5,124.14 L273.6,129.41 L267.4,129.41 Z" stroke="none" stroke-width="1" fill="#e00000" />
<path d="M274.8,116.64 L277.9,121.91 L271.7,121.91 Z" stroke="none" stroke-width="1" fill="#e00000" />
<path d="M279.1,115.34 L282.2,120.61 L276,120.61 Z" stroke="none" stroke-width="1" fill="#e00000" />
<path d="M283.4,117.64 L286.5,122.91 L280.3,122.91 Z" stroke="none" stroke-width="1" fill="#e00000" />
<rect x="201.8" y="78.5" width="4.8" height="4.8" fill="#ff00ff" stroke="none" stroke-width="0.8"/>
<rect x="216.4" y="82.9" width="4.8" height="4.8" fill="#ff00ff" stroke="none" stroke-width="0.8"/>
<rect x="231.6" y="85" width="4.8" height="4.8" fill="#ff00ff" stroke="none" stroke-width="0.8"/>
<rect x="246.5" y="91.9" width="4.8" height="4.8" fill="#ff00ff" stroke="none" stroke-width="0.8"/>
<rect x="261.2" y="101.8" width="4.8" height="4.8" fill="#ff00ff" stroke="none" stroke-width="0.8"/>
<rect x="276.2" y="112.2" width="4.8" height="4.8" fill="#ff00ff" stroke="none" stroke-width="0.8"/>
<rect x="291.3" y="121.2" width="4.8" height="4.8" fill="#ff00ff" stroke="none" stroke-width="0.8"/>
<rect x="306.4" y="127.5" width="4.8" height="4.8" fill="#ff00ff" stroke="none" stroke-width="0.8"/>
<rect x="321.2" y="130.9" width="4.8" height="4.8" fill="#ff00ff" stroke="none" stroke-width="0.8"/>
<rect x="336.2" y="134.3" width="4.8" height="4.8" fill="#ff00ff" stroke="none" stroke-width="0.8"/>
<rect x="351" y="134.3" width="4.8" height="4.8" fill="#ff00ff" stroke="none" stroke-width="0.8"/>
<rect x="366.1" y="135.1" width="4.8" height="4.8" fill="#ff00ff" stroke="none" stroke-width="0.8"/>
<rect x="380.9" y="136.2" width="4.8" height="4.8" fill="#ff00ff" stroke="none" stroke-width="0.8"/>
<rect x="395.7" y="136.2" width="4.8" height="4.8" fill="#ff00ff" stroke="none" stroke-width="0.8"/>
<rect x="187" y="28.2" width="222" height="123.5" fill="none" stroke="#000" stroke-width="1.4"/>
<line x1="296.3" y1="43.5" x2="324.1" y2="43.5" stroke="#ff00ff" stroke-width="1" />
<rect x="308" y="41" width="5" height="5" fill="#ff00ff" stroke="none" stroke-width="0.8"/>
<text x="328" y="48.2" font-size="13.5" text-anchor="start" font-weight="normal" font-style="normal" fill="#000" >3 K</text>
<line x1="296.3" y1="58" x2="324.1" y2="58" stroke="#e00000" stroke-width="1" />
<path d="M310.5,55.14 L313.3,59.9 L307.7,59.9 Z" stroke="none" stroke-width="1" fill="#e00000" />
<text x="328" y="62.7" font-size="13.5" text-anchor="start" font-weight="normal" font-style="normal" fill="#000" >17.3 K</text>
<line x1="296.3" y1="72.8" x2="324.1" y2="72.8" stroke="#000" stroke-width="1.8" />
<text x="328" y="77.5" font-size="13.5" text-anchor="start" font-weight="normal" font-style="normal" fill="#000" >Fermi gas</text>
<line x1="296.3" y1="87.4" x2="324.1" y2="87.4" stroke="#444" stroke-width="1.0" stroke-dasharray="1.4 1.4" />
<text x="328" y="92.1" font-size="13.5" text-anchor="start" font-weight="normal" font-style="normal" fill="#000" >Fermi liquid</text>
<rect x="61.6" y="21.8" width="374" height="265.9" fill="none" stroke="#000" stroke-width="1.4"/>
<text x="506.5" y="25" font-size="28" text-anchor="start" font-weight="bold" font-style="normal" fill="#000" >b</text>
<line x1="566.3" y1="288" x2="566.3" y2="283.5" stroke="#000" stroke-width="1.1" />
<line x1="566.3" y1="21.8" x2="566.3" y2="26.3" stroke="#000" stroke-width="1.1" />
<line x1="628.57" y1="288" x2="628.57" y2="283.5" stroke="#000" stroke-width="1.1" />
<line x1="628.57" y1="21.8" x2="628.57" y2="26.3" stroke="#000" stroke-width="1.1" />
<line x1="690.84" y1="288" x2="690.84" y2="283.5" stroke="#000" stroke-width="1.1" />
<line x1="690.84" y1="21.8" x2="690.84" y2="26.3" stroke="#000" stroke-width="1.1" />
<line x1="753.11" y1="288" x2="753.11" y2="283.5" stroke="#000" stroke-width="1.1" />
<line x1="753.11" y1="21.8" x2="753.11" y2="26.3" stroke="#000" stroke-width="1.1" />
<line x1="815.38" y1="288" x2="815.38" y2="283.5" stroke="#000" stroke-width="1.1" />
<line x1="815.38" y1="21.8" x2="815.38" y2="26.3" stroke="#000" stroke-width="1.1" />
<line x1="877.65" y1="288" x2="877.65" y2="283.5" stroke="#000" stroke-width="1.1" />
<line x1="877.65" y1="21.8" x2="877.65" y2="26.3" stroke="#000" stroke-width="1.1" />
<line x1="939.92" y1="288" x2="939.92" y2="283.5" stroke="#000" stroke-width="1.1" />
<line x1="939.92" y1="21.8" x2="939.92" y2="26.3" stroke="#000" stroke-width="1.1" />
<line x1="597.43" y1="288" x2="597.43" y2="285.4" stroke="#000" stroke-width="1.1" />
<line x1="597.43" y1="21.8" x2="597.43" y2="24.4" stroke="#000" stroke-width="1.1" />
<line x1="659.7" y1="288" x2="659.7" y2="285.4" stroke="#000" stroke-width="1.1" />
<line x1="659.7" y1="21.8" x2="659.7" y2="24.4" stroke="#000" stroke-width="1.1" />
<line x1="721.97" y1="288" x2="721.97" y2="285.4" stroke="#000" stroke-width="1.1" />
<line x1="721.97" y1="21.8" x2="721.97" y2="24.4" stroke="#000" stroke-width="1.1" />
<line x1="784.25" y1="288" x2="784.25" y2="285.4" stroke="#000" stroke-width="1.1" />
<line x1="784.25" y1="21.8" x2="784.25" y2="24.4" stroke="#000" stroke-width="1.1" />
<line x1="846.51" y1="288" x2="846.51" y2="285.4" stroke="#000" stroke-width="1.1" />
<line x1="846.51" y1="21.8" x2="846.51" y2="24.4" stroke="#000" stroke-width="1.1" />
<line x1="908.78" y1="288" x2="908.78" y2="285.4" stroke="#000" stroke-width="1.1" />
<line x1="908.78" y1="21.8" x2="908.78" y2="24.4" stroke="#000" stroke-width="1.1" />
<line x1="566.3" y1="269.8" x2="570.8" y2="269.8" stroke="#000" stroke-width="1.1" />
<line x1="939.9" y1="269.8" x2="935.4" y2="269.8" stroke="#000" stroke-width="1.1" />
<line x1="566.3" y1="207.8" x2="570.8" y2="207.8" stroke="#000" stroke-width="1.1" />
<line x1="939.9" y1="207.8" x2="935.4" y2="207.8" stroke="#000" stroke-width="1.1" />
<line x1="566.3" y1="145.8" x2="570.8" y2="145.8" stroke="#000" stroke-width="1.1" />
<line x1="939.9" y1="145.8" x2="935.4" y2="145.8" stroke="#000" stroke-width="1.1" />
<line x1="566.3" y1="83.8" x2="570.8" y2="83.8" stroke="#000" stroke-width="1.1" />
<line x1="939.9" y1="83.8" x2="935.4" y2="83.8" stroke="#000" stroke-width="1.1" />
<line x1="566.3" y1="21.8" x2="570.8" y2="21.8" stroke="#000" stroke-width="1.1" />
<line x1="939.9" y1="21.8" x2="935.4" y2="21.8" stroke="#000" stroke-width="1.1" />
<line x1="566.3" y1="238.8" x2="568.9" y2="238.8" stroke="#000" stroke-width="1.1" />
<line x1="939.9" y1="238.8" x2="937.3" y2="238.8" stroke="#000" stroke-width="1.1" />
<line x1="566.3" y1="176.8" x2="568.9" y2="176.8" stroke="#000" stroke-width="1.1" />
<line x1="939.9" y1="176.8" x2="937.3" y2="176.8" stroke="#000" stroke-width="1.1" />
<line x1="566.3" y1="114.8" x2="568.9" y2="114.8" stroke="#000" stroke-width="1.1" />
<line x1="939.9" y1="114.8" x2="937.3" y2="114.8" stroke="#000" stroke-width="1.1" />
<line x1="566.3" y1="52.8" x2="568.9" y2="52.8" stroke="#000" stroke-width="1.1" />
<line x1="939.9" y1="52.8" x2="937.3" y2="52.8" stroke="#000" stroke-width="1.1" />
<text x="567.1" y="309.5" font-size="19" text-anchor="middle" font-weight="normal" font-style="normal" fill="#000" >0</text>
<text x="629.37" y="309.5" font-size="19" text-anchor="middle" font-weight="normal" font-style="normal" fill="#000" >1</text>
<text x="691.64" y="309.5" font-size="19" text-anchor="middle" font-weight="normal" font-style="normal" fill="#000" >2</text>
<text x="753.91" y="309.5" font-size="19" text-anchor="middle" font-weight="normal" font-style="normal" fill="#000" >3</text>
<text x="816.18" y="309.5" font-size="19" text-anchor="middle" font-weight="normal" font-style="normal" fill="#000" >4</text>
<text x="878.45" y="309.5" font-size="19" text-anchor="middle" font-weight="normal" font-style="normal" fill="#000" >5</text>
<text x="940.72" y="309.5" font-size="19" text-anchor="middle" font-weight="normal" font-style="normal" fill="#000" >6</text>
<text x="557.8" y="275.8" font-size="19" text-anchor="end" font-weight="normal" font-style="normal" fill="#000" >1</text>
<text x="557.8" y="213.8" font-size="19" text-anchor="end" font-weight="normal" font-style="normal" fill="#000" >2</text>
<text x="557.8" y="151.8" font-size="19" text-anchor="end" font-weight="normal" font-style="normal" fill="#000" >3</text>
<text x="557.8" y="89.8" font-size="19" text-anchor="end" font-weight="normal" font-style="normal" fill="#000" >4</text>
<text x="557.8" y="27.8" font-size="19" text-anchor="end" font-weight="normal" font-style="normal" fill="#000" >5</text>
<text transform="translate(528,151.4) rotate(-90)" font-size="19" text-anchor="middle" textLength="56" lengthAdjust="spacing"><tspan font-style="italic">m</tspan><tspan dy="-2" font-size="15">*</tspan><tspan dy="2">/</tspan><tspan font-style="italic">m</tspan><tspan font-size="13" dy="4">b</tspan></text>
<text x="755" y="339.4" font-size="19.5" text-anchor="middle">Electron density (10<tspan dx="1" dy="-8" font-size="13">11</tspan><tspan dy="8"> cm</tspan><tspan dy="-8" font-size="13">−2</tspan><tspan dy="8">)</tspan></text>
<polyline points="602,236.4 615.4,248.1 629,248.1 642.5,247.3 655.8,241.5 669.4,241.5 682.7,231.4 696.4,238.9 709.7,231.2 723.3,229.1 736.9,228 750.5,233.1 763.3,230.5 776.8,237.5 790.3,230.2 803.8,214.6 817.5,233.2 830.6,224.8 844.1,236.8 857.6,227.3 871.1,231.6 884.6,245.1 898.4,234.4 911.6,238.4 925.1,236.3 938.6,243.5" fill="none" stroke="#800000" stroke-width="0.9" stroke-linejoin="round" />
<polyline points="588.7,262.3 602,259.9 615.4,244.4 629,232.2 642.5,219.8 655.8,212.7 669.4,212.6 682.7,215.8 696.4,217.9 709.7,220.6 723.3,230.7 736.9,233.3 750.5,234.8 763.3,237.9 776.8,243.5 790.3,249 803.8,240 817.5,257.5 830.6,253.8 844.1,252.2 857.6,253.8 871.1,251.4 884.6,252.5 898.4,268.1 911.6,261 925.1,262.5 938.6,255.4" fill="none" stroke="#ff8c1a" stroke-width="0.9" stroke-linejoin="round" />
<polyline points="588.7,256.4 602,272.9 615.4,268.4 629,259.2 642.5,253.1 655.8,245.6 669.4,241.4 682.7,237.3 696.4,232.6 709.7,232.3 723.3,236.8 736.9,238.9 750.5,237.5 763.3,241.4 776.8,249.5 790.3,238.7 803.8,253.3 817.5,249.8 830.6,249.8 844.1,255.9 857.6,252.2 871.1,247.9 884.6,240.8 898.4,257.5 911.6,251.7 925.1,248.6 938.6,261.7" fill="none" stroke="#e02020" stroke-width="0.9" stroke-linejoin="round" />
<polyline points="588.7,260.5 602,239.6 615.4,216.1 629,196.8 642.6,182.3 655.8,182.3 669.4,191.5 682.7,202.4 696.4,213.6 709.7,220.6 723.3,232.3 736.8,239.5 750.3,242.7 763.3,249.4 776.8,256.2 790.3,270.8 803.8,280.5" fill="none" stroke="#808010" stroke-width="0.9" stroke-linejoin="round" />
<polyline points="589.5,256.8 595.1,232.5 608.7,196.2 622.1,161.4 635.8,150.3 649.4,163.3 663,169.7 675.9,197.9 689.5,221.2 703.2,230.8 716.4,239.4 730,260.8 743,266.4" fill="none" stroke="#30d030" stroke-width="0.9" stroke-linejoin="round" />
<polyline points="588.7,268.1 602.1,172.4 615.6,139.1 628.9,105.8 642.6,125.5 655.8,174.5 669.4,179.1 682.7,212.6 696.4,236 709.7,257.8 723.6,260.3 737,276.7" fill="none" stroke="#30e0e0" stroke-width="0.9" stroke-linejoin="round" />
<polyline points="588.7,218.8 601.8,94.8 615.6,105.8 628.9,25.9 642.6,106.4 655.8,147.3 669.4,191.8 682.7,227.7 696.4,242.9 709.7,257.3" fill="none" stroke="#1818c0" stroke-width="0.9" stroke-linejoin="round" />
<rect x="587" y="217.1" width="3.4" height="3.4" fill="#1818c0" stroke="none" stroke-width="0.8"/>
<rect x="600.1" y="93.1" width="3.4" height="3.4" fill="#1818c0" stroke="none" stroke-width="0.8"/>
<rect x="613.9" y="104.1" width="3.4" height="3.4" fill="#1818c0" stroke="none" stroke-width="0.8"/>
<rect x="627.2" y="24.2" width="3.4" height="3.4" fill="#1818c0" stroke="none" stroke-width="0.8"/>
<rect x="640.9" y="104.7" width="3.4" height="3.4" fill="#1818c0" stroke="none" stroke-width="0.8"/>
<rect x="654.1" y="145.6" width="3.4" height="3.4" fill="#1818c0" stroke="none" stroke-width="0.8"/>
<rect x="667.7" y="190.1" width="3.4" height="3.4" fill="#1818c0" stroke="none" stroke-width="0.8"/>
<rect x="681" y="226" width="3.4" height="3.4" fill="#1818c0" stroke="none" stroke-width="0.8"/>
<rect x="694.7" y="241.2" width="3.4" height="3.4" fill="#1818c0" stroke="none" stroke-width="0.8"/>
<rect x="708" y="255.6" width="3.4" height="3.4" fill="#1818c0" stroke="none" stroke-width="0.8"/>
<circle cx="588.7" cy="268.1" r="1.9" fill="#30e0e0" stroke="none" stroke-width="1"/>
<circle cx="602.1" cy="172.4" r="1.9" fill="#30e0e0" stroke="none" stroke-width="1"/>
<circle cx="615.6" cy="139.1" r="1.9" fill="#30e0e0" stroke="none" stroke-width="1"/>
<circle cx="628.9" cy="105.8" r="1.9" fill="#30e0e0" stroke="none" stroke-width="1"/>
<circle cx="642.6" cy="125.5" r="1.9" fill="#30e0e0" stroke="none" stroke-width="1"/>
<circle cx="655.8" cy="174.5" r="1.9" fill="#30e0e0" stroke="none" stroke-width="1"/>
<circle cx="669.4" cy="179.1" r="1.9" fill="#30e0e0" stroke="none" stroke-width="1"/>
<circle cx="682.7" cy="212.6" r="1.9" fill="#30e0e0" stroke="none" stroke-width="1"/>
<circle cx="696.4" cy="236" r="1.9" fill="#30e0e0" stroke="none" stroke-width="1"/>
<circle cx="709.7" cy="257.8" r="1.9" fill="#30e0e0" stroke="none" stroke-width="1"/>
<circle cx="723.6" cy="260.3" r="1.9" fill="#30e0e0" stroke="none" stroke-width="1"/>
<circle cx="737" cy="276.7" r="1.9" fill="#30e0e0" stroke="none" stroke-width="1"/>
<path d="M589.5,259.04 L591.7,255.3 L587.3,255.3 Z" stroke="none" stroke-width="1" fill="#30d030" />
<path d="M595.1,234.74 L597.3,231 L592.9,231 Z" stroke="none" stroke-width="1" fill="#30d030" />
<path d="M608.7,198.44 L610.9,194.7 L606.5,194.7 Z" stroke="none" stroke-width="1" fill="#30d030" />
<path d="M622.1,163.64 L624.3,159.9 L619.9,159.9 Z" stroke="none" stroke-width="1" fill="#30d030" />
<path d="M635.8,152.54 L638,148.8 L633.6,148.8 Z" stroke="none" stroke-width="1" fill="#30d030" />
<path d="M649.4,165.54 L651.6,161.8 L647.2,161.8 Z" stroke="none" stroke-width="1" fill="#30d030" />
<path d="M663,171.94 L665.2,168.2 L660.8,168.2 Z" stroke="none" stroke-width="1" fill="#30d030" />
<path d="M675.9,200.14 L678.1,196.4 L673.7,196.4 Z" stroke="none" stroke-width="1" fill="#30d030" />
<path d="M689.5,223.44 L691.7,219.7 L687.3,219.7 Z" stroke="none" stroke-width="1" fill="#30d030" />
<path d="M703.2,233.04 L705.4,229.3 L701,229.3 Z" stroke="none" stroke-width="1" fill="#30d030" />
<path d="M716.4,241.64 L718.6,237.9 L714.2,237.9 Z" stroke="none" stroke-width="1" fill="#30d030" />
<path d="M730,263.04 L732.2,259.3 L727.8,259.3 Z" stroke="none" stroke-width="1" fill="#30d030" />
<path d="M743,268.64 L745.2,264.9 L740.8,264.9 Z" stroke="none" stroke-width="1" fill="#30d030" />
<path d="M588.7,258.26 L590.9,262 L586.5,262 Z" stroke="none" stroke-width="1" fill="#808010" />
<path d="M602,237.36 L604.2,241.1 L599.8,241.1 Z" stroke="none" stroke-width="1" fill="#808010" />
<path d="M615.4,213.86 L617.6,217.6 L613.2,217.6 Z" stroke="none" stroke-width="1" fill="#808010" />
<path d="M629,194.56 L631.2,198.3 L626.8,198.3 Z" stroke="none" stroke-width="1" fill="#808010" />
<path d="M642.6,180.06 L644.8,183.8 L640.4,183.8 Z" stroke="none" stroke-width="1" fill="#808010" />
<path d="M655.8,180.06 L658,183.8 L653.6,183.8 Z" stroke="none" stroke-width="1" fill="#808010" />
<path d="M669.4,189.26 L671.6,193 L667.2,193 Z" stroke="none" stroke-width="1" fill="#808010" />
<path d="M682.7,200.16 L684.9,203.9 L680.5,203.9 Z" stroke="none" stroke-width="1" fill="#808010" />
<path d="M696.4,211.36 L698.6,215.1 L694.2,215.1 Z" stroke="none" stroke-width="1" fill="#808010" />
<path d="M709.7,218.36 L711.9,222.1 L707.5,222.1 Z" stroke="none" stroke-width="1" fill="#808010" />
<path d="M723.3,230.06 L725.5,233.8 L721.1,233.8 Z" stroke="none" stroke-width="1" fill="#808010" />
<path d="M736.8,237.26 L739,241 L734.6,241 Z" stroke="none" stroke-width="1" fill="#808010" />
<path d="M750.3,240.46 L752.5,244.2 L748.1,244.2 Z" stroke="none" stroke-width="1" fill="#808010" />
<path d="M763.3,247.16 L765.5,250.9 L761.1,250.9 Z" stroke="none" stroke-width="1" fill="#808010" />
<path d="M776.8,253.96 L779,257.7 L774.6,257.7 Z" stroke="none" stroke-width="1" fill="#808010" />
<path d="M790.3,268.56 L792.5,272.3 L788.1,272.3 Z" stroke="none" stroke-width="1" fill="#808010" />
<path d="M803.8,278.26 L806,282 L801.6,282 Z" stroke="none" stroke-width="1" fill="#808010" />
<rect x="586.9" y="260.5" width="3.6" height="3.6" fill="#ff8c1a" stroke="none" stroke-width="0.8"/>
<rect x="600.2" y="258.1" width="3.6" height="3.6" fill="#ff8c1a" stroke="none" stroke-width="0.8"/>
<rect x="613.6" y="242.6" width="3.6" height="3.6" fill="#ff8c1a" stroke="none" stroke-width="0.8"/>
<rect x="627.2" y="230.4" width="3.6" height="3.6" fill="#ff8c1a" stroke="none" stroke-width="0.8"/>
<rect x="640.7" y="218" width="3.6" height="3.6" fill="#ff8c1a" stroke="none" stroke-width="0.8"/>
<rect x="654" y="210.9" width="3.6" height="3.6" fill="#ff8c1a" stroke="none" stroke-width="0.8"/>
<rect x="667.6" y="210.8" width="3.6" height="3.6" fill="#ff8c1a" stroke="none" stroke-width="0.8"/>
<rect x="680.9" y="214" width="3.6" height="3.6" fill="#ff8c1a" stroke="none" stroke-width="0.8"/>
<rect x="694.6" y="216.1" width="3.6" height="3.6" fill="#ff8c1a" stroke="none" stroke-width="0.8"/>
<rect x="707.9" y="218.8" width="3.6" height="3.6" fill="#ff8c1a" stroke="none" stroke-width="0.8"/>
<rect x="721.5" y="228.9" width="3.6" height="3.6" fill="#ff8c1a" stroke="none" stroke-width="0.8"/>
<rect x="735.1" y="231.5" width="3.6" height="3.6" fill="#ff8c1a" stroke="none" stroke-width="0.8"/>
<rect x="748.7" y="233" width="3.6" height="3.6" fill="#ff8c1a" stroke="none" stroke-width="0.8"/>
<rect x="761.5" y="236.1" width="3.6" height="3.6" fill="#ff8c1a" stroke="none" stroke-width="0.8"/>
<rect x="775" y="241.7" width="3.6" height="3.6" fill="#ff8c1a" stroke="none" stroke-width="0.8"/>
<rect x="788.5" y="247.2" width="3.6" height="3.6" fill="#ff8c1a" stroke="none" stroke-width="0.8"/>
<rect x="802" y="238.2" width="3.6" height="3.6" fill="#ff8c1a" stroke="none" stroke-width="0.8"/>
<rect x="815.7" y="255.7" width="3.6" height="3.6" fill="#ff8c1a" stroke="none" stroke-width="0.8"/>
<rect x="828.8" y="252" width="3.6" height="3.6" fill="#ff8c1a" stroke="none" stroke-width="0.8"/>
<rect x="842.3" y="250.4" width="3.6" height="3.6" fill="#ff8c1a" stroke="none" stroke-width="0.8"/>
<rect x="855.8" y="252" width="3.6" height="3.6" fill="#ff8c1a" stroke="none" stroke-width="0.8"/>
<rect x="869.3" y="249.6" width="3.6" height="3.6" fill="#ff8c1a" stroke="none" stroke-width="0.8"/>
<rect x="882.8" y="250.7" width="3.6" height="3.6" fill="#ff8c1a" stroke="none" stroke-width="0.8"/>
<rect x="896.6" y="266.3" width="3.6" height="3.6" fill="#ff8c1a" stroke="none" stroke-width="0.8"/>
<rect x="909.8" y="259.2" width="3.6" height="3.6" fill="#ff8c1a" stroke="none" stroke-width="0.8"/>
<rect x="923.3" y="260.7" width="3.6" height="3.6" fill="#ff8c1a" stroke="none" stroke-width="0.8"/>
<rect x="936.8" y="253.6" width="3.6" height="3.6" fill="#ff8c1a" stroke="none" stroke-width="0.8"/>
<rect x="600.2" y="234.6" width="3.6" height="3.6" fill="#800000" stroke="none" stroke-width="0.8"/>
<rect x="613.6" y="246.3" width="3.6" height="3.6" fill="#800000" stroke="none" stroke-width="0.8"/>
<rect x="627.2" y="246.3" width="3.6" height="3.6" fill="#800000" stroke="none" stroke-width="0.8"/>
<rect x="640.7" y="245.5" width="3.6" height="3.6" fill="#800000" stroke="none" stroke-width="0.8"/>
<rect x="654" y="239.7" width="3.6" height="3.6" fill="#800000" stroke="none" stroke-width="0.8"/>
<rect x="667.6" y="239.7" width="3.6" height="3.6" fill="#800000" stroke="none" stroke-width="0.8"/>
<rect x="680.9" y="229.6" width="3.6" height="3.6" fill="#800000" stroke="none" stroke-width="0.8"/>
<rect x="694.6" y="237.1" width="3.6" height="3.6" fill="#800000" stroke="none" stroke-width="0.8"/>
<rect x="707.9" y="229.4" width="3.6" height="3.6" fill="#800000" stroke="none" stroke-width="0.8"/>
<rect x="721.5" y="227.3" width="3.6" height="3.6" fill="#800000" stroke="none" stroke-width="0.8"/>
<rect x="735.1" y="226.2" width="3.6" height="3.6" fill="#800000" stroke="none" stroke-width="0.8"/>
<rect x="748.7" y="231.3" width="3.6" height="3.6" fill="#800000" stroke="none" stroke-width="0.8"/>
<rect x="761.5" y="228.7" width="3.6" height="3.6" fill="#800000" stroke="none" stroke-width="0.8"/>
<rect x="775" y="235.7" width="3.6" height="3.6" fill="#800000" stroke="none" stroke-width="0.8"/>
<rect x="788.5" y="228.4" width="3.6" height="3.6" fill="#800000" stroke="none" stroke-width="0.8"/>
<rect x="802" y="212.8" width="3.6" height="3.6" fill="#800000" stroke="none" stroke-width="0.8"/>
<rect x="815.7" y="231.4" width="3.6" height="3.6" fill="#800000" stroke="none" stroke-width="0.8"/>
<rect x="828.8" y="223" width="3.6" height="3.6" fill="#800000" stroke="none" stroke-width="0.8"/>
<rect x="842.3" y="235" width="3.6" height="3.6" fill="#800000" stroke="none" stroke-width="0.8"/>
<rect x="855.8" y="225.5" width="3.6" height="3.6" fill="#800000" stroke="none" stroke-width="0.8"/>
<rect x="869.3" y="229.8" width="3.6" height="3.6" fill="#800000" stroke="none" stroke-width="0.8"/>
<rect x="882.8" y="243.3" width="3.6" height="3.6" fill="#800000" stroke="none" stroke-width="0.8"/>
<rect x="896.6" y="232.6" width="3.6" height="3.6" fill="#800000" stroke="none" stroke-width="0.8"/>
<rect x="909.8" y="236.6" width="3.6" height="3.6" fill="#800000" stroke="none" stroke-width="0.8"/>
<rect x="923.3" y="234.5" width="3.6" height="3.6" fill="#800000" stroke="none" stroke-width="0.8"/>
<rect x="936.8" y="241.7" width="3.6" height="3.6" fill="#800000" stroke="none" stroke-width="0.8"/>
<path d="M588.7,254.26 L590.8,257.83 L586.6,257.83 Z" stroke="none" stroke-width="1" fill="#e02020" />
<path d="M602,270.76 L604.1,274.33 L599.9,274.33 Z" stroke="none" stroke-width="1" fill="#e02020" />
<path d="M615.4,266.26 L617.5,269.83 L613.3,269.83 Z" stroke="none" stroke-width="1" fill="#e02020" />
<path d="M629,257.06 L631.1,260.63 L626.9,260.63 Z" stroke="none" stroke-width="1" fill="#e02020" />
<path d="M642.5,250.96 L644.6,254.53 L640.4,254.53 Z" stroke="none" stroke-width="1" fill="#e02020" />
<path d="M655.8,243.46 L657.9,247.03 L653.7,247.03 Z" stroke="none" stroke-width="1" fill="#e02020" />
<path d="M669.4,239.26 L671.5,242.83 L667.3,242.83 Z" stroke="none" stroke-width="1" fill="#e02020" />
<path d="M682.7,235.16 L684.8,238.73 L680.6,238.73 Z" stroke="none" stroke-width="1" fill="#e02020" />
<path d="M696.4,230.46 L698.5,234.03 L694.3,234.03 Z" stroke="none" stroke-width="1" fill="#e02020" />
<path d="M709.7,230.16 L711.8,233.73 L707.6,233.73 Z" stroke="none" stroke-width="1" fill="#e02020" />
<path d="M723.3,234.66 L725.4,238.23 L721.2,238.23 Z" stroke="none" stroke-width="1" fill="#e02020" />
<path d="M736.9,236.76 L739,240.33 L734.8,240.33 Z" stroke="none" stroke-width="1" fill="#e02020" />
<path d="M750.5,235.36 L752.6,238.93 L748.4,238.93 Z" stroke="none" stroke-width="1" fill="#e02020" />
<path d="M763.3,239.26 L765.4,242.83 L761.2,242.83 Z" stroke="none" stroke-width="1" fill="#e02020" />
<path d="M776.8,247.36 L778.9,250.93 L774.7,250.93 Z" stroke="none" stroke-width="1" fill="#e02020" />
<path d="M790.3,236.56 L792.4,240.13 L788.2,240.13 Z" stroke="none" stroke-width="1" fill="#e02020" />
<path d="M803.8,251.16 L805.9,254.73 L801.7,254.73 Z" stroke="none" stroke-width="1" fill="#e02020" />
<path d="M817.5,247.66 L819.6,251.23 L815.4,251.23 Z" stroke="none" stroke-width="1" fill="#e02020" />
<path d="M830.6,247.66 L832.7,251.23 L828.5,251.23 Z" stroke="none" stroke-width="1" fill="#e02020" />
<path d="M844.1,253.76 L846.2,257.33 L842,257.33 Z" stroke="none" stroke-width="1" fill="#e02020" />
<path d="M857.6,250.06 L859.7,253.63 L855.5,253.63 Z" stroke="none" stroke-width="1" fill="#e02020" />
<path d="M871.1,245.76 L873.2,249.33 L869,249.33 Z" stroke="none" stroke-width="1" fill="#e02020" />
<path d="M884.6,238.66 L886.7,242.23 L882.5,242.23 Z" stroke="none" stroke-width="1" fill="#e02020" />
<path d="M898.4,255.36 L900.5,258.93 L896.3,258.93 Z" stroke="none" stroke-width="1" fill="#e02020" />
<path d="M911.6,249.56 L913.7,253.13 L909.5,253.13 Z" stroke="none" stroke-width="1" fill="#e02020" />
<path d="M925.1,246.46 L927.2,250.03 L923,250.03 Z" stroke="none" stroke-width="1" fill="#e02020" />
<path d="M938.6,259.56 L940.7,263.13 L936.5,263.13 Z" stroke="none" stroke-width="1" fill="#e02020" />
<polyline points="615.49,138.81 616.12,142.8 616.74,146.57 617.36,150.14 617.98,153.53 618.61,156.74 619.23,159.8 619.85,162.71 620.47,165.49 621.1,168.13 621.72,170.65 622.34,173.06 622.97,175.36 623.59,177.56 624.21,179.67 624.83,181.69 625.46,183.63 626.08,185.49 626.7,187.28 627.32,188.99 627.95,190.64 628.57,192.23 629.19,193.76 629.82,195.23 630.44,196.65 631.06,198.01 631.68,199.33 632.31,200.61 632.93,201.84 633.55,203.03 634.17,204.17 634.8,205.28 635.42,206.36 636.04,207.4 636.67,208.41 637.29,209.38 637.91,210.33 638.53,211.25 639.16,212.14 639.78,213 640.4,213.84 641.02,214.65 641.65,215.44 642.27,216.21 642.89,216.96 643.51,217.68 644.14,218.39 644.76,219.08 645.38,219.74 646.01,220.4 646.63,221.03 647.25,221.65 647.87,222.25 648.5,222.83 649.12,223.41 649.74,223.96 650.36,224.51 650.99,225.04 651.61,225.55 652.23,226.06 652.86,226.55 653.48,227.03 654.1,227.5 654.72,227.96 655.35,228.41 655.97,228.85 656.59,229.28 657.21,229.7 657.84,230.11 658.46,230.51 659.08,230.91 659.71,231.29 662.82,233.09 665.93,234.72 669.05,236.2 672.16,237.54 675.27,238.76 678.39,239.88 681.5,240.91 684.61,241.86 687.73,242.74 690.84,243.55 693.95,244.3 697.07,245 700.18,245.66 703.29,246.27 706.41,246.84 709.52,247.37 712.63,247.87 715.75,248.34 718.86,248.79 721.97,249.21 725.09,249.6 728.2,249.98 731.32,250.33 734.43,250.67 737.54,250.98 740.66,251.29 743.77,251.58 746.88,251.85 750,252.11 753.11,252.36 756.22,252.6 759.34,252.82 762.45,253.04 765.56,253.25 768.68,253.45 771.79,253.64 774.9,253.82 778.02,254 781.13,254.17 784.24,254.33 787.36,254.49 790.47,254.64 793.59,254.78 796.7,254.92 799.81,255.05 802.93,255.18 806.04,255.31 809.15,255.43 812.27,255.54 815.38,255.66 818.49,255.77 821.61,255.87 824.72,255.97 827.83,256.07 830.95,256.17 834.06,256.26 837.17,256.35 840.29,256.44 843.4,256.52 846.51,256.6 849.63,256.68 852.74,256.76 855.86,256.84 858.97,256.91 862.08,256.98 865.2,257.05 868.31,257.12 871.42,257.18 874.54,257.24 877.65,257.31 880.76,257.37 883.88,257.42 886.99,257.48 890.1,257.54 893.22,257.59 896.33,257.65 899.44,257.7 902.56,257.75 905.67,257.8 908.78,257.84 911.9,257.89 915.01,257.94 918.13,257.98 921.24,258.03 924.35,258.07 927.47,258.11 930.58,258.15 933.69,258.19 936.81,258.23 939.92,258.27" fill="none" stroke="#000" stroke-width="2.2" stroke-linejoin="round" />
<circle cx="605.2" cy="19.5" r="1" fill="#000" stroke="none" stroke-width="1"/>
<circle cx="605.5" cy="27.1" r="1" fill="#000" stroke="none" stroke-width="1"/>
<circle cx="606.2" cy="35.2" r="1" fill="#000" stroke="none" stroke-width="1"/>
<circle cx="607" cy="43" r="1" fill="#000" stroke="none" stroke-width="1"/>
<circle cx="607.6" cy="50.9" r="1" fill="#000" stroke="none" stroke-width="1"/>
<circle cx="608.2" cy="58.9" r="1" fill="#000" stroke="none" stroke-width="1"/>
<circle cx="608.8" cy="66.5" r="1" fill="#000" stroke="none" stroke-width="1"/>
<circle cx="609.7" cy="74.4" r="1" fill="#000" stroke="none" stroke-width="1"/>
<circle cx="610.5" cy="82.1" r="1" fill="#000" stroke="none" stroke-width="1"/>
<circle cx="611.2" cy="90" r="1" fill="#000" stroke="none" stroke-width="1"/>
<circle cx="611.8" cy="97.6" r="1" fill="#000" stroke="none" stroke-width="1"/>
<circle cx="612.3" cy="105.5" r="1" fill="#000" stroke="none" stroke-width="1"/>
<circle cx="613" cy="112.8" r="1" fill="#000" stroke="none" stroke-width="1"/>
<circle cx="613.8" cy="120.5" r="1" fill="#000" stroke="none" stroke-width="1"/>
<circle cx="614.5" cy="128.2" r="1" fill="#000" stroke="none" stroke-width="1"/>
<circle cx="615.3" cy="136" r="1" fill="#000" stroke="none" stroke-width="1"/>
<rect x="708.2" y="27.8" width="222.8" height="148" fill="#fff" stroke="none" stroke-width="1"/>
<line x1="708.2" y1="176" x2="708.2" y2="171.5" stroke="#000" stroke-width="1.1" />
<line x1="708.2" y1="27.8" x2="708.2" y2="32.3" stroke="#000" stroke-width="1.1" />
<line x1="782.4" y1="176" x2="782.4" y2="171.5" stroke="#000" stroke-width="1.1" />
<line x1="782.4" y1="27.8" x2="782.4" y2="32.3" stroke="#000" stroke-width="1.1" />
<line x1="856.6" y1="176" x2="856.6" y2="171.5" stroke="#000" stroke-width="1.1" />
<line x1="856.6" y1="27.8" x2="856.6" y2="32.3" stroke="#000" stroke-width="1.1" />
<line x1="930.8" y1="176" x2="930.8" y2="171.5" stroke="#000" stroke-width="1.1" />
<line x1="930.8" y1="27.8" x2="930.8" y2="32.3" stroke="#000" stroke-width="1.1" />
<line x1="745.3" y1="176" x2="745.3" y2="173.2" stroke="#000" stroke-width="1.1" />
<line x1="745.3" y1="27.8" x2="745.3" y2="30.6" stroke="#000" stroke-width="1.1" />
<line x1="819.5" y1="176" x2="819.5" y2="173.2" stroke="#000" stroke-width="1.1" />
<line x1="819.5" y1="27.8" x2="819.5" y2="30.6" stroke="#000" stroke-width="1.1" />
<line x1="893.7" y1="176" x2="893.7" y2="173.2" stroke="#000" stroke-width="1.1" />
<line x1="893.7" y1="27.8" x2="893.7" y2="30.6" stroke="#000" stroke-width="1.1" />
<line x1="708.2" y1="165.7" x2="712.7" y2="165.7" stroke="#000" stroke-width="1.1" />
<line x1="931" y1="165.7" x2="926.5" y2="165.7" stroke="#000" stroke-width="1.1" />
<line x1="708.2" y1="131.35" x2="712.7" y2="131.35" stroke="#000" stroke-width="1.1" />
<line x1="931" y1="131.35" x2="926.5" y2="131.35" stroke="#000" stroke-width="1.1" />
<line x1="708.2" y1="97" x2="712.7" y2="97" stroke="#000" stroke-width="1.1" />
<line x1="931" y1="97" x2="926.5" y2="97" stroke="#000" stroke-width="1.1" />
<line x1="708.2" y1="62.65" x2="712.7" y2="62.65" stroke="#000" stroke-width="1.1" />
<line x1="931" y1="62.65" x2="926.5" y2="62.65" stroke="#000" stroke-width="1.1" />
<line x1="708.2" y1="28.3" x2="712.7" y2="28.3" stroke="#000" stroke-width="1.1" />
<line x1="931" y1="28.3" x2="926.5" y2="28.3" stroke="#000" stroke-width="1.1" />
<line x1="708.2" y1="148.52" x2="711" y2="148.52" stroke="#000" stroke-width="1.1" />
<line x1="931" y1="148.52" x2="928.2" y2="148.52" stroke="#000" stroke-width="1.1" />
<line x1="708.2" y1="114.17" x2="711" y2="114.17" stroke="#000" stroke-width="1.1" />
<line x1="931" y1="114.17" x2="928.2" y2="114.17" stroke="#000" stroke-width="1.1" />
<line x1="708.2" y1="79.82" x2="711" y2="79.82" stroke="#000" stroke-width="1.1" />
<line x1="931" y1="79.82" x2="928.2" y2="79.82" stroke="#000" stroke-width="1.1" />
<line x1="708.2" y1="45.47" x2="711" y2="45.47" stroke="#000" stroke-width="1.1" />
<line x1="931" y1="45.47" x2="928.2" y2="45.47" stroke="#000" stroke-width="1.1" />
<text x="708.2" y="191.2" font-size="13.5" text-anchor="middle" font-weight="normal" font-style="normal" fill="#000" >2</text>
<text x="782.4" y="191.2" font-size="13.5" text-anchor="middle" font-weight="normal" font-style="normal" fill="#000" >4</text>
<text x="856.6" y="191.2" font-size="13.5" text-anchor="middle" font-weight="normal" font-style="normal" fill="#000" >6</text>
<text x="930.8" y="191.2" font-size="13.5" text-anchor="middle" font-weight="normal" font-style="normal" fill="#000" >8</text>
<text x="703.8" y="170.5" font-size="13.5" text-anchor="end" font-weight="normal" font-style="normal" fill="#000" >1</text>
<text x="703.8" y="136.15" font-size="13.5" text-anchor="end" font-weight="normal" font-style="normal" fill="#000" >2</text>
<text x="703.8" y="101.8" font-size="13.5" text-anchor="end" font-weight="normal" font-style="normal" fill="#000" >3</text>
<text x="703.8" y="67.45" font-size="13.5" text-anchor="end" font-weight="normal" font-style="normal" fill="#000" >4</text>
<text x="703.8" y="33.1" font-size="13.5" text-anchor="end" font-weight="normal" font-style="normal" fill="#000" >5</text>
<text transform="translate(680.5,101) rotate(-90)" font-size="13.5" text-anchor="middle"><tspan font-style="italic">m</tspan>*/<tspan font-style="italic">m</tspan><tspan font-size="9.5" dy="3">b</tspan></text>
<text x="816.5" y="201.8" font-size="14" font-style="italic">r</text>
<circle cx="818.1" cy="190.8" r="0.75" fill="#000" stroke="none" stroke-width="1"/>
<circle cx="820.8" cy="190.8" r="0.75" fill="#000" stroke="none" stroke-width="1"/>
<text x="820.5" y="205.7" font-size="10">s</text>
<polyline points="709,163.2 710.22,163 711.92,162.72 714.14,162.38 716.9,162 720.51,161.56 724.85,161.06 729.34,160.55 733.4,160.1 736.78,159.76 739.83,159.49 742.84,159.2 746.1,158.8 749.72,158.26 753.54,157.62 757.44,156.95 761.3,156.3 765.13,155.66 768.97,155.01 772.78,154.38 776.5,153.8 780.09,153.31 783.58,152.89 787.04,152.45 790.5,151.9 794.04,151.19 797.61,150.38 801.1,149.53 804.4,148.7 807.45,147.88 810.33,147.06 813.09,146.25 815.8,145.5 818.46,144.83 821.05,144.21 823.56,143.61 826,143 828.28,142.43 830.44,141.91 832.62,141.3 835,140.5 837.68,139.43 840.55,138.16 843.45,136.81 846.2,135.5 848.77,134.26 851.26,133.03 853.66,131.78 856,130.5 858.26,129.21 860.44,127.9 862.58,126.54 864.7,125.1 866.81,123.58 868.9,121.99 870.96,120.3 873,118.5 875.02,116.53 877.02,114.42 878.99,112.26 880.9,110.1 882.74,108.02 884.52,105.96 886.27,103.82 888,101.5 889.74,98.88 891.46,96.06 893.13,93.2 894.7,90.5 896.15,87.98 897.52,85.56 898.8,83.23 900,81 901.09,78.94 902.08,77.03 903.03,75.12 904,73.1 905,70.91 906,68.64 907,66.32 908,64 909.09,61.47 910.25,58.78 911.28,56.38 912,54.7" fill="none" stroke="#000" stroke-width="1.3" stroke-dasharray="4 3" stroke-linejoin="round" />
<rect x="717.5" y="166.7" width="3.4" height="3.4" fill="#e02020" stroke="none" stroke-width="0.8"/>
<rect x="737.4" y="164.1" width="3.4" height="3.4" fill="#e02020" stroke="none" stroke-width="0.8"/>
<rect x="748.2" y="160.3" width="3.4" height="3.4" fill="#e02020" stroke="none" stroke-width="0.8"/>
<rect x="751.3" y="152.7" width="3.4" height="3.4" fill="#e02020" stroke="none" stroke-width="0.8"/>
<rect x="753.9" y="157.1" width="3.4" height="3.4" fill="#e02020" stroke="none" stroke-width="0.8"/>
<rect x="755.8" y="153.3" width="3.4" height="3.4" fill="#e02020" stroke="none" stroke-width="0.8"/>
<rect x="760.8" y="152.7" width="3.4" height="3.4" fill="#e02020" stroke="none" stroke-width="0.8"/>
<rect x="764" y="155.9" width="3.4" height="3.4" fill="#e02020" stroke="none" stroke-width="0.8"/>
<rect x="766.9" y="148.6" width="3.4" height="3.4" fill="#e02020" stroke="none" stroke-width="0.8"/>
<rect x="768.5" y="154" width="3.4" height="3.4" fill="#e02020" stroke="none" stroke-width="0.8"/>
<rect x="771" y="155.2" width="3.4" height="3.4" fill="#e02020" stroke="none" stroke-width="0.8"/>
<rect x="773.5" y="157.8" width="3.4" height="3.4" fill="#e02020" stroke="none" stroke-width="0.8"/>
<rect x="776.7" y="153.3" width="3.4" height="3.4" fill="#e02020" stroke="none" stroke-width="0.8"/>
<rect x="782.4" y="147.6" width="3.4" height="3.4" fill="#e02020" stroke="none" stroke-width="0.8"/>
<rect x="785.6" y="153.7" width="3.4" height="3.4" fill="#e02020" stroke="none" stroke-width="0.8"/>
<rect x="788.1" y="147.6" width="3.4" height="3.4" fill="#e02020" stroke="none" stroke-width="0.8"/>
<rect x="790" y="145.1" width="3.4" height="3.4" fill="#e02020" stroke="none" stroke-width="0.8"/>
<rect x="791.3" y="143.8" width="3.4" height="3.4" fill="#e02020" stroke="none" stroke-width="0.8"/>
<rect x="792.6" y="146.4" width="3.4" height="3.4" fill="#e02020" stroke="none" stroke-width="0.8"/>
<rect x="757.8" y="158.8" width="3.4" height="3.4" fill="#e02020" stroke="none" stroke-width="0.8"/>
<rect x="762.3" y="158.3" width="3.4" height="3.4" fill="#e02020" stroke="none" stroke-width="0.8"/>
<rect x="749.3" y="159.3" width="3.4" height="3.4" fill="#e02020" stroke="none" stroke-width="0.8"/>
<rect x="778.3" y="156.3" width="3.4" height="3.4" fill="#e02020" stroke="none" stroke-width="0.8"/>
<rect x="750.1" y="159" width="3.4" height="3.4" fill="#ff8c1a" stroke="none" stroke-width="0.8"/>
<rect x="758.3" y="159" width="3.4" height="3.4" fill="#ff8c1a" stroke="none" stroke-width="0.8"/>
<rect x="762.1" y="160.3" width="3.4" height="3.4" fill="#ff8c1a" stroke="none" stroke-width="0.8"/>
<rect x="764.7" y="161.6" width="3.4" height="3.4" fill="#ff8c1a" stroke="none" stroke-width="0.8"/>
<rect x="767.8" y="163.9" width="3.4" height="3.4" fill="#ff8c1a" stroke="none" stroke-width="0.8"/>
<rect x="772.3" y="153.3" width="3.4" height="3.4" fill="#ff8c1a" stroke="none" stroke-width="0.8"/>
<rect x="776.1" y="150.2" width="3.4" height="3.4" fill="#ff8c1a" stroke="none" stroke-width="0.8"/>
<rect x="779.3" y="155.2" width="3.4" height="3.4" fill="#ff8c1a" stroke="none" stroke-width="0.8"/>
<rect x="782.4" y="155.9" width="3.4" height="3.4" fill="#ff8c1a" stroke="none" stroke-width="0.8"/>
<rect x="784.9" y="157.1" width="3.4" height="3.4" fill="#ff8c1a" stroke="none" stroke-width="0.8"/>
<rect x="791.3" y="153.3" width="3.4" height="3.4" fill="#ff8c1a" stroke="none" stroke-width="0.8"/>
<rect x="795.1" y="148.9" width="3.4" height="3.4" fill="#ff8c1a" stroke="none" stroke-width="0.8"/>
<rect x="797.6" y="147" width="3.4" height="3.4" fill="#ff8c1a" stroke="none" stroke-width="0.8"/>
<rect x="801.4" y="145.1" width="3.4" height="3.4" fill="#ff8c1a" stroke="none" stroke-width="0.8"/>
<rect x="805.2" y="143.8" width="3.4" height="3.4" fill="#ff8c1a" stroke="none" stroke-width="0.8"/>
<rect x="809.1" y="142.3" width="3.4" height="3.4" fill="#ff8c1a" stroke="none" stroke-width="0.8"/>
<rect x="805.9" y="136.8" width="3.4" height="3.4" fill="#ff8c1a" stroke="none" stroke-width="0.8"/>
<rect x="811.6" y="134.9" width="3.4" height="3.4" fill="#ff8c1a" stroke="none" stroke-width="0.8"/>
<rect x="814.1" y="133" width="3.4" height="3.4" fill="#ff8c1a" stroke="none" stroke-width="0.8"/>
<rect x="816" y="134.3" width="3.4" height="3.4" fill="#ff8c1a" stroke="none" stroke-width="0.8"/>
<rect x="812.9" y="137.5" width="3.4" height="3.4" fill="#ff8c1a" stroke="none" stroke-width="0.8"/>
<rect x="806.4" y="136.6" width="3.4" height="3.4" fill="#ff8c1a" stroke="none" stroke-width="0.8"/>
<rect x="801.8" y="145.3" width="3.4" height="3.4" fill="#ff8c1a" stroke="none" stroke-width="0.8"/>
<rect x="808.7" y="143" width="3.4" height="3.4" fill="#ff8c1a" stroke="none" stroke-width="0.8"/>
<path d="M757.5,158.56 L759.6,162.13 L755.4,162.13 Z" stroke="none" stroke-width="1" fill="#808010" />
<path d="M801.9,156.06 L804,159.63 L799.8,159.63 Z" stroke="none" stroke-width="1" fill="#808010" />
<path d="M806.9,152.26 L809,155.83 L804.8,155.83 Z" stroke="none" stroke-width="1" fill="#808010" />
<path d="M811.8,149.06 L813.9,152.63 L809.7,152.63 Z" stroke="none" stroke-width="1" fill="#808010" />
<path d="M816.8,146.56 L818.9,150.13 L814.7,150.13 Z" stroke="none" stroke-width="1" fill="#808010" />
<path d="M822.2,143.16 L824.3,146.73 L820.1,146.73 Z" stroke="none" stroke-width="1" fill="#808010" />
<path d="M826.6,133.86 L828.7,137.43 L824.5,137.43 Z" stroke="none" stroke-width="1" fill="#808010" />
<path d="M827.7,134.56 L829.8,138.13 L825.6,138.13 Z" stroke="none" stroke-width="1" fill="#808010" />
<path d="M834.2,132.16 L836.3,135.73 L832.1,135.73 Z" stroke="none" stroke-width="1" fill="#808010" />
<path d="M839.3,125.26 L841.4,128.83 L837.2,128.83 Z" stroke="none" stroke-width="1" fill="#808010" />
<path d="M841.6,122.96 L843.7,126.53 L839.5,126.53 Z" stroke="none" stroke-width="1" fill="#808010" />
<path d="M844.4,119.46 L846.5,123.03 L842.3,123.03 Z" stroke="none" stroke-width="1" fill="#808010" />
<path d="M847.4,114.86 L849.5,118.43 L845.3,118.43 Z" stroke="none" stroke-width="1" fill="#808010" />
<path d="M823.1,142.56 L825.2,146.13 L821,146.13 Z" stroke="none" stroke-width="1" fill="#808010" />
<path d="M827.2,147.64 L829.3,144.07 L825.1,144.07 Z" stroke="none" stroke-width="1" fill="#30d030" />
<path d="M831.2,151.54 L833.3,147.97 L829.1,147.97 Z" stroke="none" stroke-width="1" fill="#30d030" />
<path d="M839.3,146.84 L841.4,143.27 L837.2,143.27 Z" stroke="none" stroke-width="1" fill="#30d030" />
<path d="M847.4,141.84 L849.5,138.27 L845.3,138.27 Z" stroke="none" stroke-width="1" fill="#30d030" />
<path d="M855.4,128.44 L857.5,124.87 L853.3,124.87 Z" stroke="none" stroke-width="1" fill="#30d030" />
<path d="M861.2,128.44 L863.3,124.87 L859.1,124.87 Z" stroke="none" stroke-width="1" fill="#30d030" />
<path d="M863.5,112.94 L865.6,109.37 L861.4,109.37 Z" stroke="none" stroke-width="1" fill="#30d030" />
<path d="M871.1,109.24 L873.2,105.67 L869,105.67 Z" stroke="none" stroke-width="1" fill="#30d030" />
<path d="M873.9,108.74 L876,105.17 L871.8,105.17 Z" stroke="none" stroke-width="1" fill="#30d030" />
<path d="M876.2,101.84 L878.3,98.27 L874.1,98.27 Z" stroke="none" stroke-width="1" fill="#30d030" />
<path d="M826.6,147.54 L828.7,143.97 L824.5,143.97 Z" stroke="none" stroke-width="1" fill="#30d030" />
<circle cx="897" cy="74.5" r="1.9" fill="#30e0e0" stroke="none" stroke-width="1"/>
<circle cx="888.5" cy="85.8" r="1.9" fill="#30e0e0" stroke="none" stroke-width="1"/>
<circle cx="898.6" cy="93.9" r="1.9" fill="#30e0e0" stroke="none" stroke-width="1"/>
<circle cx="883.2" cy="111.9" r="1.9" fill="#30e0e0" stroke="none" stroke-width="1"/>
<circle cx="878.1" cy="113.6" r="1.9" fill="#30e0e0" stroke="none" stroke-width="1"/>
<circle cx="867" cy="115.9" r="1.9" fill="#30e0e0" stroke="none" stroke-width="1"/>
<circle cx="835.8" cy="165.5" r="1.9" fill="#30e0e0" stroke="none" stroke-width="1"/>
<rect x="904.15" y="28.05" width="3.3" height="3.3" fill="#1818c0" stroke="none" stroke-width="0.8"/>
<rect x="899.55" y="66.85" width="3.3" height="3.3" fill="#1818c0" stroke="none" stroke-width="0.8"/>
<rect x="892.55" y="73.35" width="3.3" height="3.3" fill="#1818c0" stroke="none" stroke-width="0.8"/>
<rect x="909.65" y="72.85" width="3.3" height="3.3" fill="#1818c0" stroke="none" stroke-width="0.8"/>
<rect x="879.85" y="96.45" width="3.3" height="3.3" fill="#1818c0" stroke="none" stroke-width="0.8"/>
<rect x="867.65" y="121.65" width="3.3" height="3.3" fill="#1818c0" stroke="none" stroke-width="0.8"/>
<rect x="854.25" y="136.15" width="3.3" height="3.3" fill="#1818c0" stroke="none" stroke-width="0.8"/>
<rect x="857.25" y="141.25" width="3.3" height="3.3" fill="#1818c0" stroke="none" stroke-width="0.8"/>
<text x="737.8" y="44.7" font-size="13.5" text-anchor="start" font-weight="normal" font-style="normal" fill="#000" >2.5 K</text>
<text x="737.8" y="61.1" font-size="13.5" text-anchor="start" font-weight="normal" font-style="normal" fill="#000" >2.8 K</text>
<text x="737.8" y="77.4" font-size="13.5" text-anchor="start" font-weight="normal" font-style="normal" fill="#000" >3.5 K</text>
<text x="737.8" y="93.1" font-size="13.5" text-anchor="start" font-weight="normal" font-style="normal" fill="#000" >4.8 K</text>
<text x="737.8" y="109.8" font-size="13.5" text-anchor="start" font-weight="normal" font-style="normal" fill="#000" >10 K</text>
<text x="737.8" y="126" font-size="13.5" text-anchor="start" font-weight="normal" font-style="normal" fill="#000" >7 K</text>
<text x="737.8" y="142.1" font-size="13.5" text-anchor="start" font-weight="normal" font-style="normal" fill="#000" >15.2 K</text>
<rect x="730.1" y="39.1" width="3.4" height="3.4" fill="#1818c0" stroke="none" stroke-width="0.8"/>
<circle cx="731.8" cy="57.2" r="2" fill="#30e0e0" stroke="none" stroke-width="1"/>
<path d="M731.8,75.74 L734,72 L729.6,72 Z" stroke="none" stroke-width="1" fill="#30d030" />
<path d="M731.8,86.96 L734,90.7 L729.6,90.7 Z" stroke="none" stroke-width="1" fill="#808010" />
<rect x="730.1" y="104.2" width="3.4" height="3.4" fill="#e02020" stroke="none" stroke-width="0.8"/>
<rect x="730.1" y="120.4" width="3.4" height="3.4" fill="#ff8c1a" stroke="none" stroke-width="0.8"/>
<path d="M731.8,136L734,138.2L731.8,140.4L729.6,138.2Z" stroke="none" stroke-width="1" fill="#800000" />
<rect x="708.2" y="27.8" width="222.8" height="148.2" fill="none" stroke="#000" stroke-width="1.4"/>
<rect x="566.3" y="21.8" width="373.6" height="266.2" fill="none" stroke="#000" stroke-width="1.4"/>
<text x="1.5" y="385" font-size="28" text-anchor="start" font-weight="bold" font-style="normal" fill="#000" >c</text>
<line x1="62" y1="593.2" x2="435.2" y2="593.2" stroke="#b4b4b4" stroke-width="1" />
<line x1="181.6" y1="384.5" x2="181.6" y2="632" stroke="#888" stroke-width="1" stroke-dasharray="3 2.5" />
<line x1="311.7" y1="384.5" x2="311.7" y2="632" stroke="#888" stroke-width="1" stroke-dasharray="3 2.5" />
<line x1="61.8" y1="632" x2="61.8" y2="627.5" stroke="#000" stroke-width="1.1" />
<line x1="61.8" y1="384.5" x2="61.8" y2="389" stroke="#000" stroke-width="1.1" />
<line x1="140" y1="632" x2="140" y2="627.5" stroke="#000" stroke-width="1.1" />
<line x1="140" y1="384.5" x2="140" y2="389" stroke="#000" stroke-width="1.1" />
<line x1="218.2" y1="632" x2="218.2" y2="627.5" stroke="#000" stroke-width="1.1" />
<line x1="218.2" y1="384.5" x2="218.2" y2="389" stroke="#000" stroke-width="1.1" />
<line x1="296.4" y1="632" x2="296.4" y2="627.5" stroke="#000" stroke-width="1.1" />
<line x1="296.4" y1="384.5" x2="296.4" y2="389" stroke="#000" stroke-width="1.1" />
<line x1="374.6" y1="632" x2="374.6" y2="627.5" stroke="#000" stroke-width="1.1" />
<line x1="374.6" y1="384.5" x2="374.6" y2="389" stroke="#000" stroke-width="1.1" />
<line x1="100.9" y1="632" x2="100.9" y2="629.4" stroke="#000" stroke-width="1.1" />
<line x1="100.9" y1="384.5" x2="100.9" y2="387.1" stroke="#000" stroke-width="1.1" />
<line x1="179.1" y1="632" x2="179.1" y2="629.4" stroke="#000" stroke-width="1.1" />
<line x1="179.1" y1="384.5" x2="179.1" y2="387.1" stroke="#000" stroke-width="1.1" />
<line x1="257.3" y1="632" x2="257.3" y2="629.4" stroke="#000" stroke-width="1.1" />
<line x1="257.3" y1="384.5" x2="257.3" y2="387.1" stroke="#000" stroke-width="1.1" />
<line x1="335.5" y1="632" x2="335.5" y2="629.4" stroke="#000" stroke-width="1.1" />
<line x1="335.5" y1="384.5" x2="335.5" y2="387.1" stroke="#000" stroke-width="1.1" />
<line x1="413.7" y1="632" x2="413.7" y2="629.4" stroke="#000" stroke-width="1.1" />
<line x1="413.7" y1="384.5" x2="413.7" y2="387.1" stroke="#000" stroke-width="1.1" />
<line x1="62" y1="593.2" x2="66.5" y2="593.2" stroke="#000" stroke-width="1.1" />
<line x1="62" y1="527.9" x2="66.5" y2="527.9" stroke="#000" stroke-width="1.1" />
<line x1="62" y1="462.6" x2="66.5" y2="462.6" stroke="#000" stroke-width="1.1" />
<line x1="62" y1="397.3" x2="66.5" y2="397.3" stroke="#000" stroke-width="1.1" />
<line x1="62" y1="625.85" x2="64.6" y2="625.85" stroke="#000" stroke-width="1.1" />
<line x1="62" y1="560.55" x2="64.6" y2="560.55" stroke="#000" stroke-width="1.1" />
<line x1="62" y1="495.25" x2="64.6" y2="495.25" stroke="#000" stroke-width="1.1" />
<line x1="62" y1="429.95" x2="64.6" y2="429.95" stroke="#000" stroke-width="1.1" />
<line x1="435.2" y1="632" x2="430.7" y2="632" stroke="#000" stroke-width="1.1" />
<line x1="435.2" y1="570.1" x2="430.7" y2="570.1" stroke="#000" stroke-width="1.1" />
<line x1="435.2" y1="508.2" x2="430.7" y2="508.2" stroke="#000" stroke-width="1.1" />
<line x1="435.2" y1="446.3" x2="430.7" y2="446.3" stroke="#000" stroke-width="1.1" />
<line x1="435.2" y1="384.4" x2="430.7" y2="384.4" stroke="#000" stroke-width="1.1" />
<line x1="435.2" y1="601.05" x2="432.6" y2="601.05" stroke="#000" stroke-width="1.1" />
<line x1="435.2" y1="539.15" x2="432.6" y2="539.15" stroke="#000" stroke-width="1.1" />
<line x1="435.2" y1="477.25" x2="432.6" y2="477.25" stroke="#000" stroke-width="1.1" />
<line x1="435.2" y1="415.35" x2="432.6" y2="415.35" stroke="#000" stroke-width="1.1" />
<text x="63.3" y="658.3" font-size="19" text-anchor="middle" font-weight="normal" font-style="normal" fill="#000" >0</text>
<text x="141.5" y="658.3" font-size="19" text-anchor="middle" font-weight="normal" font-style="normal" fill="#000" >1</text>
<text x="219.7" y="658.3" font-size="19" text-anchor="middle" font-weight="normal" font-style="normal" fill="#000" >2</text>
<text x="297.9" y="658.3" font-size="19" text-anchor="middle" font-weight="normal" font-style="normal" fill="#000" >3</text>
<text x="376.1" y="658.3" font-size="19" text-anchor="middle" font-weight="normal" font-style="normal" fill="#000" >4</text>
<text x="55" y="597.5" font-size="19" text-anchor="end" font-weight="normal" font-style="normal" fill="#000" >0.0</text>
<text x="55" y="532.2" font-size="19" text-anchor="end" font-weight="normal" font-style="normal" fill="#000" >0.5</text>
<text x="55" y="466.9" font-size="19" text-anchor="end" font-weight="normal" font-style="normal" fill="#000" >1.0</text>
<text x="55" y="401.6" font-size="19" text-anchor="end" font-weight="normal" font-style="normal" fill="#000" >1.5</text>
<text x="441.8" y="635.8" font-size="19" text-anchor="start" font-weight="normal" font-style="normal" fill="#000" >0</text>
<text x="441.8" y="573.9" font-size="19" text-anchor="start" font-weight="normal" font-style="normal" fill="#000" >1</text>
<text x="441.8" y="512" font-size="19" text-anchor="start" font-weight="normal" font-style="normal" fill="#000" >2</text>
<text x="441.8" y="450.1" font-size="19" text-anchor="start" font-weight="normal" font-style="normal" fill="#000" >3</text>
<text x="441.8" y="388.2" font-size="19" text-anchor="start" font-weight="normal" font-style="normal" fill="#000" >4</text>
<text x="0" y="0" font-size="19" text-anchor="middle" font-weight="normal" font-style="normal" fill="#000" transform="translate(17.2,512.9) rotate(-90)"><tspan font-style="italic">∂</tspan>S/<tspan font-style="italic">∂</tspan>n</text>
<text transform="translate(476.3,506.5) rotate(-90)" font-size="19" text-anchor="middle"><tspan font-style="italic">m</tspan>/<tspan font-style="italic">m</tspan><tspan font-size="13" dy="4">b</tspan></text>
<text x="248.3" y="687.8" font-size="19.5" text-anchor="middle">Electron density (10<tspan dx="1" dy="-8" font-size="13">11</tspan><tspan dy="8"> cm</tspan><tspan dy="-8" font-size="13">−2</tspan><tspan dy="8">)</tspan></text>
<defs><clipPath id="hA"><polygon points="62,411.6 116.3,411.6 116.3,416.1 141.5,434.2 166.8,465.9 188.7,503.1 166.8,484.5 141.5,480.8 116.3,477 62,478"/></clipPath>
<clipPath id="hB"><polygon points="188.7,503.1 191.8,509 217.5,518.2 242.9,531.9 267.6,547.9 292.9,561.1 302,567.5 302,596 292.9,595.4 267.6,591.6 242.9,571.9 217.5,555 191.8,509"/></clipPath></defs>
<g clip-path="url(#hA)">
<line x1="57.6" y1="426.2" x2="212.6" y2="277.4" stroke="#000" stroke-width="0.9" />
<line x1="57.6" y1="451.3" x2="212.6" y2="302.5" stroke="#000" stroke-width="0.9" />
<line x1="57.6" y1="479.3" x2="212.6" y2="330.5" stroke="#000" stroke-width="0.9" />
<line x1="57.6" y1="506.1" x2="212.6" y2="357.3" stroke="#000" stroke-width="0.9" />
<line x1="57.6" y1="533.8" x2="212.6" y2="385" stroke="#000" stroke-width="0.9" />
<line x1="57.6" y1="560.8" x2="212.6" y2="412" stroke="#000" stroke-width="0.9" />
<line x1="57.6" y1="586.8" x2="212.6" y2="438" stroke="#000" stroke-width="0.9" />
<line x1="57.6" y1="612.8" x2="212.6" y2="464" stroke="#000" stroke-width="0.9" />
</g><g clip-path="url(#hB)">
<line x1="148" y1="593" x2="208" y2="503" stroke="#000" stroke-width="0.9" />
<line x1="169" y1="593" x2="229" y2="503" stroke="#000" stroke-width="0.9" />
<line x1="189.5" y1="593" x2="249.5" y2="503" stroke="#000" stroke-width="0.9" />
<line x1="210.5" y1="593" x2="270.5" y2="503" stroke="#000" stroke-width="0.9" />
<line x1="235.5" y1="593" x2="295.5" y2="503" stroke="#000" stroke-width="0.9" />
<line x1="260.3" y1="593" x2="320.3" y2="503" stroke="#000" stroke-width="0.9" />
<line x1="284.5" y1="593" x2="344.5" y2="503" stroke="#000" stroke-width="0.9" />
</g>
<line x1="62" y1="411.6" x2="116.3" y2="411.6" stroke="#777" stroke-width="0.9" stroke-dasharray="1.2 1.2" />
<line x1="65.8" y1="478" x2="116.3" y2="477" stroke="#e03030" stroke-width="0.9" stroke-dasharray="1.2 1.2" />
<polyline points="116.3,498.8 141.5,471.2 166.8,432.7 191.8,483.2 217.5,487.5 242.9,498.8 267.6,508.1 292.9,514 318.3,520.7 343.4,540.6 368.8,583.7" fill="none" stroke="#ee4444" stroke-width="0.8" stroke-dasharray="1.3 1.3" stroke-linejoin="round" />
<polyline points="116.3,493.6 141.5,466.4 166.8,465.8 191.8,490.5 217.5,528.4 242.9,538.7 267.6,577.2" fill="none" stroke="#333" stroke-width="0.8" stroke-dasharray="1.3 1.3" stroke-linejoin="round" />
<polyline points="123.2,443.5 139.9,451.2 156.8,451.8 174,476.5 190.5,500.4 207.8,514.1 225,529.2 241.5,556.9 258.8,569.7 275.1,581.3 292,587.3 308.9,598.8 325.7,597.8 342.5,593.4 358.8,595.9 375.9,599.1 392.8,603.8 409.6,603.8 426.3,603.8 435.2,600" fill="none" stroke="#1010d0" stroke-width="1.0" stroke-linejoin="round" />
<path d="M123.2,446.66 L126,441.9 L120.4,441.9 Z" stroke="#6a80ff" stroke-width="1" fill="#fff" />
<rect x="120.3" y="441.2" width="5.8" height="1.9" fill="#0000e0" stroke="none" stroke-width="1"/>
<path d="M139.9,454.36 L142.7,449.6 L137.1,449.6 Z" stroke="#6a80ff" stroke-width="1" fill="#fff" />
<rect x="137" y="448.9" width="5.8" height="1.9" fill="#0000e0" stroke="none" stroke-width="1"/>
<path d="M156.8,454.96 L159.6,450.2 L154,450.2 Z" stroke="#6a80ff" stroke-width="1" fill="#fff" />
<rect x="153.9" y="449.5" width="5.8" height="1.9" fill="#0000e0" stroke="none" stroke-width="1"/>
<path d="M174,479.66 L176.8,474.9 L171.2,474.9 Z" stroke="#6a80ff" stroke-width="1" fill="#fff" />
<rect x="171.1" y="474.2" width="5.8" height="1.9" fill="#0000e0" stroke="none" stroke-width="1"/>
<path d="M190.5,503.56 L193.3,498.8 L187.7,498.8 Z" stroke="#6a80ff" stroke-width="1" fill="#fff" />
<rect x="187.6" y="498.1" width="5.8" height="1.9" fill="#0000e0" stroke="none" stroke-width="1"/>
<path d="M207.8,517.26 L210.6,512.5 L205,512.5 Z" stroke="#6a80ff" stroke-width="1" fill="#fff" />
<rect x="204.9" y="511.8" width="5.8" height="1.9" fill="#0000e0" stroke="none" stroke-width="1"/>
<path d="M225,532.36 L227.8,527.6 L222.2,527.6 Z" stroke="#6a80ff" stroke-width="1" fill="#fff" />
<rect x="222.1" y="526.9" width="5.8" height="1.9" fill="#0000e0" stroke="none" stroke-width="1"/>
<path d="M241.5,560.06 L244.3,555.3 L238.7,555.3 Z" stroke="#6a80ff" stroke-width="1" fill="#fff" />
<rect x="238.6" y="554.6" width="5.8" height="1.9" fill="#0000e0" stroke="none" stroke-width="1"/>
<path d="M258.8,572.86 L261.6,568.1 L256,568.1 Z" stroke="#6a80ff" stroke-width="1" fill="#fff" />
<rect x="255.9" y="567.4" width="5.8" height="1.9" fill="#0000e0" stroke="none" stroke-width="1"/>
<path d="M275.1,584.46 L277.9,579.7 L272.3,579.7 Z" stroke="#6a80ff" stroke-width="1" fill="#fff" />
<rect x="272.2" y="579" width="5.8" height="1.9" fill="#0000e0" stroke="none" stroke-width="1"/>
<path d="M292,590.46 L294.8,585.7 L289.2,585.7 Z" stroke="#6a80ff" stroke-width="1" fill="#fff" />
<rect x="289.1" y="585" width="5.8" height="1.9" fill="#0000e0" stroke="none" stroke-width="1"/>
<path d="M308.9,601.96 L311.7,597.2 L306.1,597.2 Z" stroke="#6a80ff" stroke-width="1" fill="#fff" />
<rect x="306" y="596.5" width="5.8" height="1.9" fill="#0000e0" stroke="none" stroke-width="1"/>
<path d="M325.7,600.96 L328.5,596.2 L322.9,596.2 Z" stroke="#6a80ff" stroke-width="1" fill="#fff" />
<rect x="322.8" y="595.5" width="5.8" height="1.9" fill="#0000e0" stroke="none" stroke-width="1"/>
<path d="M342.5,596.56 L345.3,591.8 L339.7,591.8 Z" stroke="#6a80ff" stroke-width="1" fill="#fff" />
<rect x="339.6" y="591.1" width="5.8" height="1.9" fill="#0000e0" stroke="none" stroke-width="1"/>
<path d="M358.8,599.06 L361.6,594.3 L356,594.3 Z" stroke="#6a80ff" stroke-width="1" fill="#fff" />
<rect x="355.9" y="593.6" width="5.8" height="1.9" fill="#0000e0" stroke="none" stroke-width="1"/>
<path d="M375.9,602.26 L378.7,597.5 L373.1,597.5 Z" stroke="#6a80ff" stroke-width="1" fill="#fff" />
<rect x="373" y="596.8" width="5.8" height="1.9" fill="#0000e0" stroke="none" stroke-width="1"/>
<path d="M392.8,606.96 L395.6,602.2 L390,602.2 Z" stroke="#6a80ff" stroke-width="1" fill="#fff" />
<rect x="389.9" y="601.5" width="5.8" height="1.9" fill="#0000e0" stroke="none" stroke-width="1"/>
<path d="M409.6,606.96 L412.4,602.2 L406.8,602.2 Z" stroke="#6a80ff" stroke-width="1" fill="#fff" />
<rect x="406.7" y="601.5" width="5.8" height="1.9" fill="#0000e0" stroke="none" stroke-width="1"/>
<path d="M426.3,606.96 L429.1,602.2 L423.5,602.2 Z" stroke="#6a80ff" stroke-width="1" fill="#fff" />
<rect x="423.4" y="601.5" width="5.8" height="1.9" fill="#0000e0" stroke="none" stroke-width="1"/>
<polyline points="116.3,416.1 141.5,434.2 166.8,465.9 191.8,509 217.5,555 242.9,571.9 267.6,591.6 292.9,595.4 318.3,597.8 343.4,604.1 368.8,604.7 394.1,601.9 419.4,603.4 435.2,604.6" fill="none" stroke="#000" stroke-width="0.9" stroke-linejoin="round" />
<polyline points="116.3,477 141.5,480.8 166.8,484.5 191.8,506 217.5,514.7 242.9,528.4 267.6,544.4 292.9,557.6 318.3,570.4 343.4,585 368.8,593.1 394.1,592.1 419.4,600 435.2,597.2" fill="none" stroke="#e00000" stroke-width="1.1" stroke-linejoin="round" />
<rect x="113.7" y="413.5" width="5.2" height="5.2" fill="#000" stroke="none" stroke-width="0.8"/>
<rect x="138.9" y="431.6" width="5.2" height="5.2" fill="#000" stroke="none" stroke-width="0.8"/>
<rect x="164.2" y="463.3" width="5.2" height="5.2" fill="#000" stroke="none" stroke-width="0.8"/>
<rect x="189.2" y="506.4" width="5.2" height="5.2" fill="#000" stroke="none" stroke-width="0.8"/>
<rect x="214.9" y="552.4" width="5.2" height="5.2" fill="#000" stroke="none" stroke-width="0.8"/>
<rect x="240.3" y="569.3" width="5.2" height="5.2" fill="#000" stroke="none" stroke-width="0.8"/>
<rect x="265" y="589" width="5.2" height="5.2" fill="#000" stroke="none" stroke-width="0.8"/>
<rect x="290.3" y="592.8" width="5.2" height="5.2" fill="#000" stroke="none" stroke-width="0.8"/>
<rect x="315.7" y="595.2" width="5.2" height="5.2" fill="#000" stroke="none" stroke-width="0.8"/>
<rect x="340.8" y="601.5" width="5.2" height="5.2" fill="#000" stroke="none" stroke-width="0.8"/>
<rect x="366.2" y="602.1" width="5.2" height="5.2" fill="#000" stroke="none" stroke-width="0.8"/>
<rect x="391.5" y="599.3" width="5.2" height="5.2" fill="#000" stroke="none" stroke-width="0.8"/>
<rect x="416.8" y="600.8" width="5.2" height="5.2" fill="#000" stroke="none" stroke-width="0.8"/>
<rect x="113.7" y="474.4" width="5.2" height="5.2" fill="#e00000" stroke="none" stroke-width="0.8"/>
<rect x="138.9" y="478.2" width="5.2" height="5.2" fill="#e00000" stroke="none" stroke-width="0.8"/>
<rect x="164.2" y="481.9" width="5.2" height="5.2" fill="#e00000" stroke="none" stroke-width="0.8"/>
<rect x="189.2" y="503.4" width="5.2" height="5.2" fill="#e00000" stroke="none" stroke-width="0.8"/>
<rect x="214.9" y="512.1" width="5.2" height="5.2" fill="#e00000" stroke="none" stroke-width="0.8"/>
<rect x="240.3" y="525.8" width="5.2" height="5.2" fill="#e00000" stroke="none" stroke-width="0.8"/>
<rect x="265" y="541.8" width="5.2" height="5.2" fill="#e00000" stroke="none" stroke-width="0.8"/>
<rect x="290.3" y="555" width="5.2" height="5.2" fill="#e00000" stroke="none" stroke-width="0.8"/>
<rect x="315.7" y="567.8" width="5.2" height="5.2" fill="#e00000" stroke="none" stroke-width="0.8"/>
<rect x="340.8" y="582.4" width="5.2" height="5.2" fill="#e00000" stroke="none" stroke-width="0.8"/>
<rect x="366.2" y="590.5" width="5.2" height="5.2" fill="#e00000" stroke="none" stroke-width="0.8"/>
<rect x="391.5" y="589.5" width="5.2" height="5.2" fill="#e00000" stroke="none" stroke-width="0.8"/>
<rect x="416.8" y="597.4" width="5.2" height="5.2" fill="#e00000" stroke="none" stroke-width="0.8"/>
<rect x="113.5" y="496" width="5.6" height="5.6" fill="#fff" stroke="#e03030" stroke-width="0.9"/>
<rect x="138.7" y="468.4" width="5.6" height="5.6" fill="#fff" stroke="#e03030" stroke-width="0.9"/>
<rect x="164" y="429.9" width="5.6" height="5.6" fill="#fff" stroke="#e03030" stroke-width="0.9"/>
<rect x="189" y="480.4" width="5.6" height="5.6" fill="#fff" stroke="#e03030" stroke-width="0.9"/>
<rect x="214.7" y="484.7" width="5.6" height="5.6" fill="#fff" stroke="#e03030" stroke-width="0.9"/>
<rect x="240.1" y="496" width="5.6" height="5.6" fill="#fff" stroke="#e03030" stroke-width="0.9"/>
<rect x="264.8" y="505.3" width="5.6" height="5.6" fill="#fff" stroke="#e03030" stroke-width="0.9"/>
<rect x="290.1" y="511.2" width="5.6" height="5.6" fill="#fff" stroke="#e03030" stroke-width="0.9"/>
<rect x="315.5" y="517.9" width="5.6" height="5.6" fill="#fff" stroke="#e03030" stroke-width="0.9"/>
<rect x="340.6" y="537.8" width="5.6" height="5.6" fill="#fff" stroke="#e03030" stroke-width="0.9"/>
<rect x="366" y="580.9" width="5.6" height="5.6" fill="#fff" stroke="#e03030" stroke-width="0.9"/>
<rect x="113.5" y="490.8" width="5.6" height="5.6" fill="#fff" stroke="#222" stroke-width="0.9"/>
<rect x="138.7" y="463.6" width="5.6" height="5.6" fill="#fff" stroke="#222" stroke-width="0.9"/>
<rect x="164" y="463" width="5.6" height="5.6" fill="#fff" stroke="#222" stroke-width="0.9"/>
<rect x="189" y="487.7" width="5.6" height="5.6" fill="#fff" stroke="#222" stroke-width="0.9"/>
<rect x="214.7" y="525.6" width="5.6" height="5.6" fill="#fff" stroke="#222" stroke-width="0.9"/>
<rect x="240.1" y="535.9" width="5.6" height="5.6" fill="#fff" stroke="#222" stroke-width="0.9"/>
<rect x="264.8" y="574.4" width="5.6" height="5.6" fill="#fff" stroke="#222" stroke-width="0.9"/>
<line x1="85.5" y1="540.8" x2="85.5" y2="557.2" stroke="#000" stroke-width="0.8" />
<line x1="85.5" y1="557.2" x2="112.5" y2="557.2" stroke="#000" stroke-width="0.8" />
<line x1="112.5" y1="539.9" x2="112.5" y2="570" stroke="#000" stroke-width="0.8" />
<rect x="112.5" y="569.9" width="27.2" height="13.8" fill="#8cf78c" stroke="none" stroke-width="1"/>
<rect x="112.5" y="583.7" width="27.2" height="39.7" fill="#007f00" stroke="none" stroke-width="1"/>
<line x1="105.5" y1="561.7" x2="105.5" y2="618.6" stroke="#000" stroke-width="0.8" />
<path d="M105.5,558.1 L106.9,562.6 L104.1,562.6 Z" stroke="none" stroke-width="1" fill="#000" />
<path d="M105.5,622.2 L106.9,617.7 L104.1,617.7 Z" stroke="none" stroke-width="1" fill="#000" />
<text x="69.4" y="585.5" font-size="14.3"><tspan font-style="italic">g</tspan>μ<tspan font-size="10.3" dy="3">B</tspan><tspan dy="-3" font-style="italic">B</tspan></text>
<line x1="150.3" y1="576" x2="150.3" y2="580.4" stroke="#000" stroke-width="0.9" />
<path d="M150.3,568.1 L152.2,576.5 L148.4,576.5 Z" stroke="none" stroke-width="1" fill="#000" />
<path d="M150.3,588.3 L152.2,579.9 L148.4,579.9 Z" stroke="none" stroke-width="1" fill="#000" />
<text x="156.6" y="581.7" font-size="14.5" text-anchor="start" font-weight="normal" font-style="italic" fill="#000" >T</text>
<text x="118.9" y="408" font-size="19" text-anchor="middle" font-weight="normal" font-style="normal" fill="#000" >A</text>
<text x="240.5" y="408" font-size="19" text-anchor="middle" font-weight="normal" font-style="normal" fill="#000" >B</text>
<line x1="225.6" y1="410.8" x2="225.6" y2="426.7" stroke="#000" stroke-width="0.8" />
<rect x="226" y="416.9" width="26.4" height="9.6" fill="#8cf78c" stroke="none" stroke-width="1"/>
<line x1="225.6" y1="426.7" x2="252.5" y2="426.7" stroke="#000" stroke-width="0.8" />
<rect x="252.6" y="416.9" width="28" height="16.8" fill="#8cf78c" stroke="none" stroke-width="1"/>
<rect x="252.6" y="433.7" width="28" height="59.7" fill="#007f00" stroke="none" stroke-width="1"/>
<line x1="252.5" y1="409.4" x2="252.5" y2="434" stroke="#000" stroke-width="0.8" />
<line x1="245.9" y1="430.7" x2="245.9" y2="489" stroke="#000" stroke-width="0.8" />
<path d="M245.9,427.1 L247.3,431.6 L244.5,431.6 Z" stroke="none" stroke-width="1" fill="#000" />
<path d="M245.9,492.6 L247.3,488.1 L244.5,488.1 Z" stroke="none" stroke-width="1" fill="#000" />
<text x="209.4" y="463" font-size="14.3"><tspan font-style="italic">g</tspan>μ<tspan font-size="10.3" dy="3">B</tspan><tspan dy="-3" font-style="italic">B</tspan></text>
<line x1="288" y1="421" x2="288" y2="425.4" stroke="#000" stroke-width="0.9" />
<path d="M288,413.1 L289.9,421.5 L286.1,421.5 Z" stroke="none" stroke-width="1" fill="#000" />
<path d="M288,433.3 L289.9,424.9 L286.1,424.9 Z" stroke="none" stroke-width="1" fill="#000" />
<text x="294.8" y="426.7" font-size="14.5" text-anchor="start" font-weight="normal" font-style="italic" fill="#000" >T</text>
<text x="376.5" y="408" font-size="19" text-anchor="middle" font-weight="normal" font-style="normal" fill="#000" >C</text>
<rect x="342.7" y="420.7" width="27.8" height="16.7" fill="#8cf78c" stroke="none" stroke-width="1"/>
<rect x="341.2" y="437.4" width="29.3" height="20.6" fill="#007f00" stroke="none" stroke-width="1"/>
<rect x="370.9" y="420.7" width="27.7" height="17.3" fill="#8cf78c" stroke="none" stroke-width="1"/>
<rect x="370.9" y="438" width="27.7" height="86" fill="#007f00" stroke="none" stroke-width="1"/>
<line x1="370.6" y1="420" x2="370.6" y2="524" stroke="#000" stroke-width="0.8" />
<line x1="364.4" y1="462.6" x2="364.4" y2="519.4" stroke="#000" stroke-width="0.8" />
<path d="M364.4,459 L365.8,463.5 L363,463.5 Z" stroke="none" stroke-width="1" fill="#000" />
<path d="M364.4,523 L365.8,518.5 L363,518.5 Z" stroke="none" stroke-width="1" fill="#000" />
<text x="328.6" y="491.5" font-size="14.3"><tspan font-style="italic">g</tspan>μ<tspan font-size="10.3" dy="3">B</tspan><tspan dy="-3" font-style="italic">B</tspan></text>
<line x1="407.7" y1="425.85" x2="407.7" y2="430.25" stroke="#000" stroke-width="0.9" />
<path d="M407.7,418.5 L409.6,426.35 L405.8,426.35 Z" stroke="none" stroke-width="1" fill="#000" />
<path d="M407.7,437.6 L409.6,429.75 L405.8,429.75 Z" stroke="none" stroke-width="1" fill="#000" />
<text x="412.4" y="432" font-size="14.5" text-anchor="start" font-weight="normal" font-style="italic" fill="#000" >T</text>
<rect x="62" y="384.5" width="373.2" height="247.5" fill="none" stroke="#000" stroke-width="1.4"/>
<text x="506.5" y="385" font-size="28" text-anchor="start" font-weight="bold" font-style="normal" fill="#000" >d</text>
<line x1="566.2" y1="632.2" x2="566.2" y2="627.7" stroke="#000" stroke-width="1.1" />
<line x1="566.2" y1="384.6" x2="566.2" y2="389.1" stroke="#000" stroke-width="1.1" />
<line x1="639.44" y1="632.2" x2="639.44" y2="627.7" stroke="#000" stroke-width="1.1" />
<line x1="639.44" y1="384.6" x2="639.44" y2="389.1" stroke="#000" stroke-width="1.1" />
<line x1="712.68" y1="632.2" x2="712.68" y2="627.7" stroke="#000" stroke-width="1.1" />
<line x1="712.68" y1="384.6" x2="712.68" y2="389.1" stroke="#000" stroke-width="1.1" />
<line x1="785.92" y1="632.2" x2="785.92" y2="627.7" stroke="#000" stroke-width="1.1" />
<line x1="785.92" y1="384.6" x2="785.92" y2="389.1" stroke="#000" stroke-width="1.1" />
<line x1="859.16" y1="632.2" x2="859.16" y2="627.7" stroke="#000" stroke-width="1.1" />
<line x1="859.16" y1="384.6" x2="859.16" y2="389.1" stroke="#000" stroke-width="1.1" />
<line x1="932.4" y1="632.2" x2="932.4" y2="627.7" stroke="#000" stroke-width="1.1" />
<line x1="932.4" y1="384.6" x2="932.4" y2="389.1" stroke="#000" stroke-width="1.1" />
<line x1="602.82" y1="632.2" x2="602.82" y2="629.6" stroke="#000" stroke-width="1.1" />
<line x1="602.82" y1="384.6" x2="602.82" y2="387.2" stroke="#000" stroke-width="1.1" />
<line x1="676.06" y1="632.2" x2="676.06" y2="629.6" stroke="#000" stroke-width="1.1" />
<line x1="676.06" y1="384.6" x2="676.06" y2="387.2" stroke="#000" stroke-width="1.1" />
<line x1="749.3" y1="632.2" x2="749.3" y2="629.6" stroke="#000" stroke-width="1.1" />
<line x1="749.3" y1="384.6" x2="749.3" y2="387.2" stroke="#000" stroke-width="1.1" />
<line x1="822.54" y1="632.2" x2="822.54" y2="629.6" stroke="#000" stroke-width="1.1" />
<line x1="822.54" y1="384.6" x2="822.54" y2="387.2" stroke="#000" stroke-width="1.1" />
<line x1="895.78" y1="632.2" x2="895.78" y2="629.6" stroke="#000" stroke-width="1.1" />
<line x1="895.78" y1="384.6" x2="895.78" y2="387.2" stroke="#000" stroke-width="1.1" />
<line x1="566.2" y1="632.2" x2="570.7" y2="632.2" stroke="#000" stroke-width="1.1" />
<line x1="940" y1="632.2" x2="935.5" y2="632.2" stroke="#000" stroke-width="1.1" />
<line x1="566.2" y1="554.7" x2="570.7" y2="554.7" stroke="#000" stroke-width="1.1" />
<line x1="940" y1="554.7" x2="935.5" y2="554.7" stroke="#000" stroke-width="1.1" />
<line x1="566.2" y1="477.2" x2="570.7" y2="477.2" stroke="#000" stroke-width="1.1" />
<line x1="940" y1="477.2" x2="935.5" y2="477.2" stroke="#000" stroke-width="1.1" />
<line x1="566.2" y1="399.7" x2="570.7" y2="399.7" stroke="#000" stroke-width="1.1" />
<line x1="940" y1="399.7" x2="935.5" y2="399.7" stroke="#000" stroke-width="1.1" />
<line x1="566.2" y1="593.45" x2="568.8" y2="593.45" stroke="#000" stroke-width="1.1" />
<line x1="940" y1="593.45" x2="937.4" y2="593.45" stroke="#000" stroke-width="1.1" />
<line x1="566.2" y1="515.95" x2="568.8" y2="515.95" stroke="#000" stroke-width="1.1" />
<line x1="940" y1="515.95" x2="937.4" y2="515.95" stroke="#000" stroke-width="1.1" />
<line x1="566.2" y1="438.45" x2="568.8" y2="438.45" stroke="#000" stroke-width="1.1" />
<line x1="940" y1="438.45" x2="937.4" y2="438.45" stroke="#000" stroke-width="1.1" />
<text x="567.7" y="658.3" font-size="19" text-anchor="middle" font-weight="normal" font-style="normal" fill="#000" >0</text>
<text x="640.94" y="658.3" font-size="19" text-anchor="middle" font-weight="normal" font-style="normal" fill="#000" >2</text>
<text x="714.18" y="658.3" font-size="19" text-anchor="middle" font-weight="normal" font-style="normal" fill="#000" >4</text>
<text x="787.42" y="658.3" font-size="19" text-anchor="middle" font-weight="normal" font-style="normal" fill="#000" >6</text>
<text x="860.66" y="658.3" font-size="19" text-anchor="middle" font-weight="normal" font-style="normal" fill="#000" >8</text>
<text x="933.9" y="658.3" font-size="19" text-anchor="middle" font-weight="normal" font-style="normal" fill="#000" >10</text>
<text x="559.3" y="637.3" font-size="19" text-anchor="end" font-weight="normal" font-style="normal" fill="#000" >0</text>
<text x="559.3" y="559.8" font-size="19" text-anchor="end" font-weight="normal" font-style="normal" fill="#000" >5</text>
<text x="559.3" y="482.3" font-size="19" text-anchor="end" font-weight="normal" font-style="normal" fill="#000" >10</text>
<text x="559.3" y="404.8" font-size="19" text-anchor="end" font-weight="normal" font-style="normal" fill="#000" >15</text>
<text transform="translate(532,508.7) rotate(-90)" font-size="19" text-anchor="middle"><tspan font-style="italic">S</tspan> (10<tspan dy="-7" font-size="13">11</tspan><tspan dy="7">cm</tspan><tspan dy="-7" font-size="13">−2</tspan><tspan dy="7">)</tspan></text>
<text x="754.5" y="687.8" font-size="19.5" text-anchor="middle">Electron density (10<tspan dx="1" dy="-8" font-size="13">11</tspan><tspan dy="8"> cm</tspan><tspan dy="-8" font-size="13">−2</tspan><tspan dy="8">)</tspan></text>
<polyline points="568,626.5 570.63,625.34 574.31,623.73 578.64,621.82 583.24,619.73 587.7,617.6 592.13,615.27 596.78,612.65 601.52,609.98 606.17,607.52 610.6,605.5 614.74,603.99 618.69,602.82 622.54,601.91 626.39,601.16 630.3,600.5 633.96,599.93 637.32,599.51 640.85,599.23 645.05,599.06 650.4,599 657.11,599.08 664.85,599.32 673.31,599.65 682.2,600 691.2,600.3 699.57,600.56 707.5,600.82 716.13,601.08 726.59,601.34 740,601.6 757.38,601.85 777.97,602.09 800.26,602.33 822.74,602.6 843.9,602.9 865.16,603.29 887.51,603.75 908.85,604.21 927.06,604.62 940,604.9" fill="none" stroke="#ee00ee" stroke-width="1.5" stroke-dasharray="5 3" stroke-linejoin="round" />
<polyline points="570.1,626.7 571.17,625.97 572.67,624.93 574.43,623.73 576.27,622.47 578,621.3 579.56,620.26 581.08,619.27 582.64,618.25 584.35,617.12 586.3,615.8 588.56,614.24 591.06,612.48 593.71,610.62 596.39,608.73 599,606.9 601.54,605.12 604.08,603.32 606.62,601.54 609.16,599.79 611.7,598.1 614.24,596.45 616.78,594.81 619.32,593.23 621.86,591.75 624.4,590.4 626.94,589.21 629.48,588.15 632.02,587.18 634.56,586.28 637.1,585.4 639.64,584.55 642.18,583.75 644.72,582.99 647.26,582.28 649.8,581.6 652.34,580.97 654.88,580.38 657.43,579.84 659.97,579.31 662.5,578.8 664.83,578.31 666.96,577.85 669.18,577.41 671.79,576.96 675.1,576.5 679.21,576 683.93,575.49 689.08,574.97 694.5,574.47 700,574 705.67,573.56 711.63,573.14 717.76,572.73 723.92,572.35 730,572 735.84,571.67 741.52,571.36 747.28,571.07 753.36,570.82 760,570.6 767.3,570.43 775.09,570.31 783.24,570.21 791.59,570.11 800,570 808.5,569.87 817.17,569.74 825.99,569.61 834.92,569.46 843.9,569.3 852.92,569.12 861.99,568.92 871.17,568.71 880.5,568.5 890,568.3 900.55,568.08 912.12,567.85 923.41,567.63 933.14,567.44 940,567.3" fill="none" stroke="#1010d8" stroke-width="1.5" stroke-dasharray="5 3" stroke-linejoin="round" />
<polyline points="570.6,631 571.19,630.07 572.01,628.76 572.99,627.22 574.01,625.59 575,624 575.84,622.53 576.59,621.08 577.42,619.55 578.5,617.82 580,615.8 582.05,613.4 584.53,610.68 587.25,607.78 590.04,604.82 592.7,601.9 595.24,598.97 597.78,595.96 600.33,592.94 602.87,590.03 605.4,587.3 607.92,584.78 610.44,582.39 612.96,580.13 615.48,577.97 618,575.9 620.59,573.9 623.26,571.98 625.89,570.17 628.4,568.5 630.7,567 632.39,565.96 633.54,565.34 634.74,564.74 636.56,563.74 639.6,561.9 643.91,559.05 649.09,555.46 655.07,551.42 661.77,547.21 669.1,543.1 677.38,538.99 686.66,534.7 696.47,530.38 706.34,526.19 715.8,522.3 725,518.68 734.25,515.22 743.32,511.96 751.98,508.94 760,506.2 766.86,503.85 772.72,501.86 778.35,500.06 784.52,498.3 792,496.4 801.11,494.34 811.33,492.22 822.18,490.1 833.2,488.01 843.9,486 854.4,484.07 865.03,482.19 875.59,480.36 885.91,478.6 895.8,476.9 905.84,475.18 916.16,473.42 925.87,471.78 934.11,470.39 940,469.4" fill="none" stroke="#e81010" stroke-width="1.5" stroke-dasharray="5 3" stroke-linejoin="round" />
<polyline points="568.7,631 572.34,629.29 577.56,626.85 583.44,624.08 589.1,621.4 594.44,618.74 599.89,615.94 605.33,613.27 610.6,611 615.64,609.2 620.54,607.74 625.39,606.55 630.3,605.6 635.29,604.94 640.3,604.56 645.34,604.36 650.4,604.2 655.5,604.09 660.64,604.07 665.78,604.12 670.9,604.2 676,604.32 681.08,604.48 686.15,604.68 691.2,604.9 696.22,605.15 701.21,605.43 706.19,605.72 711.2,606 716.23,606.27 721.28,606.53 726.34,606.78 731.4,607 736.48,607.18 741.56,607.33 746.64,607.47 751.7,607.6 756.72,607.73 761.71,607.86 766.69,607.98 771.7,608.1 776.73,608.23 781.78,608.35 786.84,608.48 791.9,608.6 796.98,608.73 802.06,608.87 807.14,609 812.2,609.1 817.22,609.17 822.22,609.21 827.21,609.25 832.2,609.3 837.19,609.37 842.18,609.46 847.18,609.54 852.2,609.6 857.26,609.64 862.34,609.66 867.43,609.67 872.5,609.7 877.56,609.74 882.62,609.79 887.67,609.85 892.7,609.9 897.71,609.95 902.71,610.01 907.7,610.06 912.7,610.1 918,610.11 923.49,610.11 928.59,610.1 932.7,610.1 935.59,610.1 937.6,610.1 938.99,610.1 940,610.1" fill="none" stroke="#ee00ee" stroke-width="1.4" stroke-linejoin="round" />
<polyline points="573.4,631 576.04,628.97 579.82,626.06 584.11,622.81 588.3,619.8 592.32,617.08 596.48,614.39 600.67,611.78 604.8,609.3 608.83,606.96 612.82,604.73 616.8,602.61 620.8,600.6 624.83,598.7 628.86,596.9 632.89,595.2 636.9,593.6 640.86,592.08 644.78,590.66 648.71,589.33 652.7,588.1 656.76,587 660.88,586.01 665.01,585.09 669.1,584.2 673.15,583.32 677.19,582.48 681.2,581.7 685.2,581 689.16,580.41 693.1,579.9 697.04,579.44 701,579 705,578.55 709.03,578.11 713.07,577.71 717.1,577.4 721.12,577.2 725.13,577.08 729.15,577 733.2,576.9 737.29,576.78 741.41,576.66 745.53,576.53 749.6,576.4 753.61,576.25 757.57,576.08 761.52,575.92 765.5,575.8 769.51,575.72 773.54,575.67 777.57,575.63 781.6,575.6 785.62,575.57 789.64,575.54 793.66,575.52 797.7,575.5 801.77,575.48 805.85,575.45 809.93,575.42 814,575.4 818.03,575.38 822.04,575.36 826.06,575.33 830.1,575.3 834.19,575.26 838.3,575.21 842.41,575.15 846.5,575.1 850.55,575.05 854.59,575 858.6,574.95 862.6,574.9 866.56,574.85 870.5,574.81 874.44,574.76 878.4,574.7 882.4,574.63 886.43,574.56 890.47,574.48 894.5,574.4 898.52,574.32 902.53,574.25 906.55,574.17 910.6,574.1 914.76,574.02 918.99,573.95 923.13,573.87 927,573.8 930.79,573.72 934.52,573.63 937.74,573.55 940,573.5" fill="none" stroke="#1010d8" stroke-width="1.4" stroke-linejoin="round" />
<polyline points="571.5,631.9 574.41,627.82 578.59,621.94 583.27,615.57 587.7,610 591.75,605.53 595.79,601.47 599.84,597.71 603.9,594.1 607.99,590.67 612.09,587.48 616.2,584.42 620.3,581.4 624.39,578.4 628.47,575.47 632.54,572.6 636.6,569.8 640.63,567.06 644.64,564.38 648.66,561.76 652.7,559.2 656.79,556.71 660.9,554.28 665.01,551.91 669.1,549.6 673.15,547.35 677.19,545.17 681.2,543.05 685.2,541 689.16,539.03 693.1,537.13 697.04,535.29 701,533.5 705,531.76 709.03,530.09 713.07,528.44 717.1,526.8 721.12,525.16 725.13,523.52 729.15,521.91 733.2,520.3 737.29,518.69 741.41,517.08 745.53,515.51 749.6,514 753.61,512.56 757.57,511.18 761.52,509.86 765.5,508.6 769.51,507.42 773.54,506.31 777.57,505.24 781.6,504.2 785.62,503.19 789.64,502.22 793.66,501.26 797.7,500.3 801.77,499.32 805.85,498.34 809.93,497.36 814,496.4 818.03,495.45 822.04,494.5 826.06,493.58 830.1,492.7 834.19,491.88 838.3,491.09 842.41,490.34 846.5,489.6 850.55,488.88 854.59,488.19 858.6,487.5 862.6,486.8 866.56,486.07 870.5,485.34 874.44,484.61 878.4,483.9 882.4,483.22 886.43,482.55 890.47,481.91 894.5,481.3 898.52,480.76 902.53,480.26 906.55,479.76 910.6,479.2 914.76,478.53 918.99,477.8 923.13,477.07 927,476.4 930.79,475.78 934.52,475.17 937.74,474.66 940,474.3" fill="none" stroke="#e81010" stroke-width="1.4" stroke-linejoin="round" />
<rect x="586.9" y="619.2" width="4.4" height="4.4" fill="#ee00ee" stroke="none" stroke-width="0.8"/>
<rect x="608.4" y="608.8" width="4.4" height="4.4" fill="#ee00ee" stroke="none" stroke-width="0.8"/>
<rect x="628.1" y="603.4" width="4.4" height="4.4" fill="#ee00ee" stroke="none" stroke-width="0.8"/>
<rect x="648.2" y="602" width="4.4" height="4.4" fill="#ee00ee" stroke="none" stroke-width="0.8"/>
<rect x="668.7" y="602" width="4.4" height="4.4" fill="#ee00ee" stroke="none" stroke-width="0.8"/>
<rect x="689" y="602.7" width="4.4" height="4.4" fill="#ee00ee" stroke="none" stroke-width="0.8"/>
<rect x="709" y="603.8" width="4.4" height="4.4" fill="#ee00ee" stroke="none" stroke-width="0.8"/>
<rect x="729.2" y="604.8" width="4.4" height="4.4" fill="#ee00ee" stroke="none" stroke-width="0.8"/>
<rect x="749.5" y="605.4" width="4.4" height="4.4" fill="#ee00ee" stroke="none" stroke-width="0.8"/>
<rect x="769.5" y="605.9" width="4.4" height="4.4" fill="#ee00ee" stroke="none" stroke-width="0.8"/>
<rect x="789.7" y="606.4" width="4.4" height="4.4" fill="#ee00ee" stroke="none" stroke-width="0.8"/>
<rect x="810" y="606.9" width="4.4" height="4.4" fill="#ee00ee" stroke="none" stroke-width="0.8"/>
<rect x="830" y="607.1" width="4.4" height="4.4" fill="#ee00ee" stroke="none" stroke-width="0.8"/>
<rect x="850" y="607.4" width="4.4" height="4.4" fill="#ee00ee" stroke="none" stroke-width="0.8"/>
<rect x="870.3" y="607.5" width="4.4" height="4.4" fill="#ee00ee" stroke="none" stroke-width="0.8"/>
<rect x="890.5" y="607.7" width="4.4" height="4.4" fill="#ee00ee" stroke="none" stroke-width="0.8"/>
<rect x="910.5" y="607.9" width="4.4" height="4.4" fill="#ee00ee" stroke="none" stroke-width="0.8"/>
<rect x="930.5" y="607.9" width="4.4" height="4.4" fill="#ee00ee" stroke="none" stroke-width="0.8"/>
<circle cx="588.3" cy="619.8" r="2.4" fill="#fff" stroke="#1010d8" stroke-width="0.9"/>
<line x1="586.1" y1="619.8" x2="590.5" y2="619.8" stroke="#1010d8" stroke-width="0.7" />
<circle cx="604.8" cy="609.3" r="2.4" fill="#fff" stroke="#1010d8" stroke-width="0.9"/>
<line x1="602.6" y1="609.3" x2="607" y2="609.3" stroke="#1010d8" stroke-width="0.7" />
<circle cx="620.8" cy="600.6" r="2.4" fill="#fff" stroke="#1010d8" stroke-width="0.9"/>
<line x1="618.6" y1="600.6" x2="623" y2="600.6" stroke="#1010d8" stroke-width="0.7" />
<circle cx="636.9" cy="593.6" r="2.4" fill="#fff" stroke="#1010d8" stroke-width="0.9"/>
<line x1="634.7" y1="593.6" x2="639.1" y2="593.6" stroke="#1010d8" stroke-width="0.7" />
<circle cx="652.7" cy="588.1" r="2.4" fill="#fff" stroke="#1010d8" stroke-width="0.9"/>
<line x1="650.5" y1="588.1" x2="654.9" y2="588.1" stroke="#1010d8" stroke-width="0.7" />
<circle cx="669.1" cy="584.2" r="2.4" fill="#fff" stroke="#1010d8" stroke-width="0.9"/>
<line x1="666.9" y1="584.2" x2="671.3" y2="584.2" stroke="#1010d8" stroke-width="0.7" />
<circle cx="685.2" cy="581" r="2.4" fill="#fff" stroke="#1010d8" stroke-width="0.9"/>
<line x1="683" y1="581" x2="687.4" y2="581" stroke="#1010d8" stroke-width="0.7" />
<circle cx="701" cy="579" r="2.4" fill="#fff" stroke="#1010d8" stroke-width="0.9"/>
<line x1="698.8" y1="579" x2="703.2" y2="579" stroke="#1010d8" stroke-width="0.7" />
<circle cx="717.1" cy="577.4" r="2.4" fill="#fff" stroke="#1010d8" stroke-width="0.9"/>
<line x1="714.9" y1="577.4" x2="719.3" y2="577.4" stroke="#1010d8" stroke-width="0.7" />
<circle cx="733.2" cy="576.9" r="2.4" fill="#fff" stroke="#1010d8" stroke-width="0.9"/>
<line x1="731" y1="576.9" x2="735.4" y2="576.9" stroke="#1010d8" stroke-width="0.7" />
<circle cx="749.6" cy="576.4" r="2.4" fill="#fff" stroke="#1010d8" stroke-width="0.9"/>
<line x1="747.4" y1="576.4" x2="751.8" y2="576.4" stroke="#1010d8" stroke-width="0.7" />
<circle cx="765.5" cy="575.8" r="2.4" fill="#fff" stroke="#1010d8" stroke-width="0.9"/>
<line x1="763.3" y1="575.8" x2="767.7" y2="575.8" stroke="#1010d8" stroke-width="0.7" />
<circle cx="781.6" cy="575.6" r="2.4" fill="#fff" stroke="#1010d8" stroke-width="0.9"/>
<line x1="779.4" y1="575.6" x2="783.8" y2="575.6" stroke="#1010d8" stroke-width="0.7" />
<circle cx="797.7" cy="575.5" r="2.4" fill="#fff" stroke="#1010d8" stroke-width="0.9"/>
<line x1="795.5" y1="575.5" x2="799.9" y2="575.5" stroke="#1010d8" stroke-width="0.7" />
<circle cx="814" cy="575.4" r="2.4" fill="#fff" stroke="#1010d8" stroke-width="0.9"/>
<line x1="811.8" y1="575.4" x2="816.2" y2="575.4" stroke="#1010d8" stroke-width="0.7" />
<circle cx="830.1" cy="575.3" r="2.4" fill="#fff" stroke="#1010d8" stroke-width="0.9"/>
<line x1="827.9" y1="575.3" x2="832.3" y2="575.3" stroke="#1010d8" stroke-width="0.7" />
<circle cx="846.5" cy="575.1" r="2.4" fill="#fff" stroke="#1010d8" stroke-width="0.9"/>
<line x1="844.3" y1="575.1" x2="848.7" y2="575.1" stroke="#1010d8" stroke-width="0.7" />
<circle cx="862.6" cy="574.9" r="2.4" fill="#fff" stroke="#1010d8" stroke-width="0.9"/>
<line x1="860.4" y1="574.9" x2="864.8" y2="574.9" stroke="#1010d8" stroke-width="0.7" />
<circle cx="878.4" cy="574.7" r="2.4" fill="#fff" stroke="#1010d8" stroke-width="0.9"/>
<line x1="876.2" y1="574.7" x2="880.6" y2="574.7" stroke="#1010d8" stroke-width="0.7" />
<circle cx="894.5" cy="574.4" r="2.4" fill="#fff" stroke="#1010d8" stroke-width="0.9"/>
<line x1="892.3" y1="574.4" x2="896.7" y2="574.4" stroke="#1010d8" stroke-width="0.7" />
<circle cx="910.6" cy="574.1" r="2.4" fill="#fff" stroke="#1010d8" stroke-width="0.9"/>
<line x1="908.4" y1="574.1" x2="912.8" y2="574.1" stroke="#1010d8" stroke-width="0.7" />
<circle cx="927" cy="573.8" r="2.4" fill="#fff" stroke="#1010d8" stroke-width="0.9"/>
<line x1="924.8" y1="573.8" x2="929.2" y2="573.8" stroke="#1010d8" stroke-width="0.7" />
<path d="M587.7,606.94 L590.7,612.04 L584.7,612.04 Z" stroke="none" stroke-width="1" fill="#e81010" />
<path d="M603.9,591.04 L606.9,596.14 L600.9,596.14 Z" stroke="none" stroke-width="1" fill="#e81010" />
<path d="M620.3,578.34 L623.3,583.44 L617.3,583.44 Z" stroke="none" stroke-width="1" fill="#e81010" />
<path d="M636.6,566.74 L639.6,571.84 L633.6,571.84 Z" stroke="none" stroke-width="1" fill="#e81010" />
<path d="M652.7,556.14 L655.7,561.24 L649.7,561.24 Z" stroke="none" stroke-width="1" fill="#e81010" />
<path d="M669.1,546.54 L672.1,551.64 L666.1,551.64 Z" stroke="none" stroke-width="1" fill="#e81010" />
<path d="M685.2,537.94 L688.2,543.04 L682.2,543.04 Z" stroke="none" stroke-width="1" fill="#e81010" />
<path d="M701,530.44 L704,535.54 L698,535.54 Z" stroke="none" stroke-width="1" fill="#e81010" />
<path d="M717.1,523.74 L720.1,528.84 L714.1,528.84 Z" stroke="none" stroke-width="1" fill="#e81010" />
<path d="M733.2,517.24 L736.2,522.34 L730.2,522.34 Z" stroke="none" stroke-width="1" fill="#e81010" />
<path d="M749.6,510.94 L752.6,516.04 L746.6,516.04 Z" stroke="none" stroke-width="1" fill="#e81010" />
<path d="M765.5,505.54 L768.5,510.64 L762.5,510.64 Z" stroke="none" stroke-width="1" fill="#e81010" />
<path d="M781.6,501.14 L784.6,506.24 L778.6,506.24 Z" stroke="none" stroke-width="1" fill="#e81010" />
<path d="M797.7,497.24 L800.7,502.34 L794.7,502.34 Z" stroke="none" stroke-width="1" fill="#e81010" />
<path d="M814,493.34 L817,498.44 L811,498.44 Z" stroke="none" stroke-width="1" fill="#e81010" />
<path d="M830.1,489.64 L833.1,494.74 L827.1,494.74 Z" stroke="none" stroke-width="1" fill="#e81010" />
<path d="M846.5,486.54 L849.5,491.64 L843.5,491.64 Z" stroke="none" stroke-width="1" fill="#e81010" />
<path d="M862.6,483.74 L865.6,488.84 L859.6,488.84 Z" stroke="none" stroke-width="1" fill="#e81010" />
<path d="M878.4,480.84 L881.4,485.94 L875.4,485.94 Z" stroke="none" stroke-width="1" fill="#e81010" />
<path d="M894.5,478.24 L897.5,483.34 L891.5,483.34 Z" stroke="none" stroke-width="1" fill="#e81010" />
<path d="M910.6,476.14 L913.6,481.24 L907.6,481.24 Z" stroke="none" stroke-width="1" fill="#e81010" />
<path d="M927,473.34 L930,478.44 L924,478.44 Z" stroke="none" stroke-width="1" fill="#e81010" />
<line x1="842.5" y1="418.5" x2="873.7" y2="418.5" stroke="#ee00ee" stroke-width="1.4" />
<text x="878.5" y="423.3" font-size="13.5" text-anchor="start" font-weight="normal" font-style="normal" fill="#000" >3 K</text>
<line x1="842.5" y1="435.4" x2="873.7" y2="435.4" stroke="#1010d8" stroke-width="1.4" />
<text x="878.5" y="440.2" font-size="13.5" text-anchor="start" font-weight="normal" font-style="normal" fill="#000" >7 K</text>
<line x1="842.5" y1="452.8" x2="873.7" y2="452.8" stroke="#e81010" stroke-width="1.4" />
<text x="878.5" y="457.6" font-size="13.5" text-anchor="start" font-weight="normal" font-style="normal" fill="#000" >17.3 K</text>
<rect x="855.9" y="416.3" width="4.4" height="4.4" fill="#ee00ee" stroke="none" stroke-width="0.8"/>
<circle cx="858.1" cy="435.4" r="2.4" fill="#fff" stroke="#1010d8" stroke-width="0.9"/>
<line x1="855.9" y1="435.4" x2="860.3" y2="435.4" stroke="#1010d8" stroke-width="0.7" />
<path d="M858.1,449.74 L861.1,454.84 L855.1,454.84 Z" stroke="none" stroke-width="1" fill="#e81010" />
<rect x="584" y="390.1" width="177.6" height="93.1" fill="#fff" stroke="none" stroke-width="1"/>
<line x1="584" y1="483.2" x2="584" y2="478.7" stroke="#000" stroke-width="1.1" />
<line x1="584" y1="390.1" x2="584" y2="394.6" stroke="#000" stroke-width="1.1" />
<line x1="619.35" y1="483.2" x2="619.35" y2="478.7" stroke="#000" stroke-width="1.1" />
<line x1="619.35" y1="390.1" x2="619.35" y2="394.6" stroke="#000" stroke-width="1.1" />
<line x1="654.7" y1="483.2" x2="654.7" y2="478.7" stroke="#000" stroke-width="1.1" />
<line x1="654.7" y1="390.1" x2="654.7" y2="394.6" stroke="#000" stroke-width="1.1" />
<line x1="690.05" y1="483.2" x2="690.05" y2="478.7" stroke="#000" stroke-width="1.1" />
<line x1="690.05" y1="390.1" x2="690.05" y2="394.6" stroke="#000" stroke-width="1.1" />
<line x1="725.4" y1="483.2" x2="725.4" y2="478.7" stroke="#000" stroke-width="1.1" />
<line x1="725.4" y1="390.1" x2="725.4" y2="394.6" stroke="#000" stroke-width="1.1" />
<line x1="601.67" y1="483.2" x2="601.67" y2="480.4" stroke="#000" stroke-width="1.1" />
<line x1="601.67" y1="390.1" x2="601.67" y2="392.9" stroke="#000" stroke-width="1.1" />
<line x1="637.02" y1="483.2" x2="637.02" y2="480.4" stroke="#000" stroke-width="1.1" />
<line x1="637.02" y1="390.1" x2="637.02" y2="392.9" stroke="#000" stroke-width="1.1" />
<line x1="672.38" y1="483.2" x2="672.38" y2="480.4" stroke="#000" stroke-width="1.1" />
<line x1="672.38" y1="390.1" x2="672.38" y2="392.9" stroke="#000" stroke-width="1.1" />
<line x1="707.73" y1="483.2" x2="707.73" y2="480.4" stroke="#000" stroke-width="1.1" />
<line x1="707.73" y1="390.1" x2="707.73" y2="392.9" stroke="#000" stroke-width="1.1" />
<line x1="743.08" y1="483.2" x2="743.08" y2="480.4" stroke="#000" stroke-width="1.1" />
<line x1="743.08" y1="390.1" x2="743.08" y2="392.9" stroke="#000" stroke-width="1.1" />
<line x1="584" y1="483.2" x2="588.5" y2="483.2" stroke="#000" stroke-width="1.1" />
<line x1="761.6" y1="483.2" x2="757.1" y2="483.2" stroke="#000" stroke-width="1.1" />
<line x1="584" y1="450.05" x2="588.5" y2="450.05" stroke="#000" stroke-width="1.1" />
<line x1="761.6" y1="450.05" x2="757.1" y2="450.05" stroke="#000" stroke-width="1.1" />
<line x1="584" y1="416.9" x2="588.5" y2="416.9" stroke="#000" stroke-width="1.1" />
<line x1="761.6" y1="416.9" x2="757.1" y2="416.9" stroke="#000" stroke-width="1.1" />
<line x1="584" y1="466.62" x2="586.8" y2="466.62" stroke="#000" stroke-width="1.1" />
<line x1="761.6" y1="466.62" x2="758.8" y2="466.62" stroke="#000" stroke-width="1.1" />
<line x1="584" y1="433.47" x2="586.8" y2="433.47" stroke="#000" stroke-width="1.1" />
<line x1="761.6" y1="433.47" x2="758.8" y2="433.47" stroke="#000" stroke-width="1.1" />
<line x1="584" y1="400.32" x2="586.8" y2="400.32" stroke="#000" stroke-width="1.1" />
<line x1="761.6" y1="400.32" x2="758.8" y2="400.32" stroke="#000" stroke-width="1.1" />
<text x="584" y="499.8" font-size="13.5" text-anchor="middle" font-weight="normal" font-style="normal" fill="#000" >0</text>
<text x="619.35" y="499.8" font-size="13.5" text-anchor="middle" font-weight="normal" font-style="normal" fill="#000" >5</text>
<text x="654.7" y="499.8" font-size="13.5" text-anchor="middle" font-weight="normal" font-style="normal" fill="#000" >10</text>
<text x="690.05" y="499.8" font-size="13.5" text-anchor="middle" font-weight="normal" font-style="normal" fill="#000" >15</text>
<text x="725.4" y="499.8" font-size="13.5" text-anchor="middle" font-weight="normal" font-style="normal" fill="#000" >20</text>
<text x="581.2" y="488" font-size="13.5" text-anchor="end" font-weight="normal" font-style="normal" fill="#000" >0</text>
<text x="581.2" y="454.85" font-size="13.5" text-anchor="end" font-weight="normal" font-style="normal" fill="#000" >5</text>
<text x="581.2" y="421.7" font-size="13.5" text-anchor="end" font-weight="normal" font-style="normal" fill="#000" >10</text>
<text x="0" y="0" font-size="13.5" text-anchor="middle" font-weight="normal" font-style="normal" fill="#000" transform="translate(603,435) rotate(-90)">s</text>
<text x="662.5" y="516" font-size="13.5" text-anchor="middle"><tspan font-style="italic">T</tspan> (K)</text>
<text x="601.2" y="412.8" font-size="14"><tspan font-style="italic">n</tspan>=10.3 ×10<tspan dy="-6" font-size="10">11</tspan><tspan dy="6"> cm</tspan><tspan dy="-6" font-size="10">−2</tspan></text>
<text x="648.8" y="469.9" font-size="14"><tspan font-style="italic">n</tspan>=3.9 ×10<tspan dy="-6" font-size="10">11</tspan><tspan dy="6"> cm</tspan><tspan dy="-6" font-size="10">−2</tspan></text>
<line x1="584" y1="483.2" x2="747" y2="396.3" stroke="#000" stroke-width="0.9" />
<line x1="584" y1="476.6" x2="745" y2="428.6" stroke="#e00000" stroke-width="0.9" />
<path d="M601.1,467.2 L601.97,469.3 L604.24,469.48 L602.51,470.96 L603.04,473.17 L601.1,471.99 L599.16,473.17 L599.69,470.96 L597.96,469.48 L600.23,469.3Z" stroke="none" stroke-width="1" fill="#000" />
<path d="M604.4,469.7 L605.27,471.8 L607.54,471.98 L605.81,473.46 L606.34,475.67 L604.4,474.49 L602.46,475.67 L602.99,473.46 L601.26,471.98 L603.53,471.8Z" stroke="none" stroke-width="1" fill="#000" />
<path d="M609.6,463.7 L610.47,465.8 L612.74,465.98 L611.01,467.46 L611.54,469.67 L609.6,468.49 L607.66,469.67 L608.19,467.46 L606.46,465.98 L608.73,465.8Z" stroke="none" stroke-width="1" fill="#000" />
<path d="M633.4,453.9 L634.27,456 L636.54,456.18 L634.81,457.66 L635.34,459.87 L633.4,458.69 L631.46,459.87 L631.99,457.66 L630.26,456.18 L632.53,456Z" stroke="none" stroke-width="1" fill="#000" />
<path d="M640.3,451.1 L641.17,453.2 L643.44,453.38 L641.71,454.86 L642.24,457.07 L640.3,455.88 L638.36,457.07 L638.89,454.86 L637.16,453.38 L639.43,453.2Z" stroke="none" stroke-width="1" fill="#000" />
<path d="M647.7,451.1 L648.57,453.2 L650.84,453.38 L649.11,454.86 L649.64,457.07 L647.7,455.88 L645.76,457.07 L646.29,454.86 L644.56,453.38 L646.83,453.2Z" stroke="none" stroke-width="1" fill="#000" />
<path d="M655.1,447.1 L655.97,449.2 L658.24,449.38 L656.51,450.86 L657.04,453.07 L655.1,451.88 L653.16,453.07 L653.69,450.86 L651.96,449.38 L654.23,449.2Z" stroke="none" stroke-width="1" fill="#000" />
<path d="M662.8,442.1 L663.67,444.2 L665.94,444.38 L664.21,445.86 L664.74,448.07 L662.8,446.88 L660.86,448.07 L661.39,445.86 L659.66,444.38 L661.93,444.2Z" stroke="none" stroke-width="1" fill="#000" />
<path d="M670.9,430.4 L671.77,432.5 L674.04,432.68 L672.31,434.16 L672.84,436.37 L670.9,435.19 L668.96,436.37 L669.49,434.16 L667.76,432.68 L670.03,432.5Z" stroke="none" stroke-width="1" fill="#000" />
<path d="M677,433.1 L677.87,435.2 L680.14,435.38 L678.41,436.86 L678.94,439.07 L677,437.88 L675.06,439.07 L675.59,436.86 L673.86,435.38 L676.13,435.2Z" stroke="none" stroke-width="1" fill="#000" />
<path d="M684.1,423.6 L684.97,425.7 L687.24,425.88 L685.51,427.36 L686.04,429.57 L684.1,428.38 L682.16,429.57 L682.69,427.36 L680.96,425.88 L683.23,425.7Z" stroke="none" stroke-width="1" fill="#000" />
<path d="M692.1,417.9 L692.97,420 L695.24,420.18 L693.51,421.66 L694.04,423.87 L692.1,422.69 L690.16,423.87 L690.69,421.66 L688.96,420.18 L691.23,420Z" stroke="none" stroke-width="1" fill="#000" />
<path d="M698.9,413.3 L699.77,415.4 L702.04,415.58 L700.31,417.06 L700.84,419.27 L698.9,418.09 L696.96,419.27 L697.49,417.06 L695.76,415.58 L698.03,415.4Z" stroke="none" stroke-width="1" fill="#000" />
<path d="M706.3,412 L707.17,414.1 L709.44,414.28 L707.71,415.76 L708.24,417.97 L706.3,416.79 L704.36,417.97 L704.89,415.76 L703.16,414.28 L705.43,414.1Z" stroke="none" stroke-width="1" fill="#000" />
<path d="M711.8,411.2 L712.67,413.3 L714.94,413.48 L713.21,414.96 L713.74,417.17 L711.8,415.99 L709.86,417.17 L710.39,414.96 L708.66,413.48 L710.93,413.3Z" stroke="none" stroke-width="1" fill="#000" />
<path d="M719,408.8 L719.87,410.9 L722.14,411.08 L720.41,412.56 L720.94,414.77 L719,413.59 L717.06,414.77 L717.59,412.56 L715.86,411.08 L718.13,410.9Z" stroke="none" stroke-width="1" fill="#000" />
<path d="M727,398.9 L727.87,401 L730.14,401.18 L728.41,402.66 L728.94,404.87 L727,403.69 L725.06,404.87 L725.59,402.66 L723.86,401.18 L726.13,401Z" stroke="none" stroke-width="1" fill="#000" />
<path d="M730.8,399.3 L731.67,401.4 L733.94,401.58 L732.21,403.06 L732.74,405.27 L730.8,404.09 L728.86,405.27 L729.39,403.06 L727.66,401.58 L729.93,401.4Z" stroke="none" stroke-width="1" fill="#000" />
<path d="M742.2,394 L743.07,396.1 L745.34,396.28 L743.61,397.76 L744.14,399.97 L742.2,398.79 L740.26,399.97 L740.79,397.76 L739.06,396.28 L741.33,396.1Z" stroke="none" stroke-width="1" fill="#000" />
<path d="M598.04,471.3 L603.14,468.3 L603.14,474.3 Z" stroke="none" stroke-width="1" fill="#e00000" />
<path d="M600.74,472.9 L605.84,469.9 L605.84,475.9 Z" stroke="none" stroke-width="1" fill="#e00000" />
<path d="M602.84,471.6 L607.94,468.6 L607.94,474.6 Z" stroke="none" stroke-width="1" fill="#e00000" />
<path d="M604.94,470.2 L610.04,467.2 L610.04,473.2 Z" stroke="none" stroke-width="1" fill="#e00000" />
<path d="M609.74,468.1 L614.84,465.1 L614.84,471.1 Z" stroke="none" stroke-width="1" fill="#e00000" />
<path d="M612.84,466.5 L617.94,463.5 L617.94,469.5 Z" stroke="none" stroke-width="1" fill="#e00000" />
<path d="M615.04,466.2 L620.14,463.2 L620.14,469.2 Z" stroke="none" stroke-width="1" fill="#e00000" />
<path d="M623.94,461.8 L629.04,458.8 L629.04,464.8 Z" stroke="none" stroke-width="1" fill="#e00000" />
<path d="M629.84,460.7 L634.94,457.7 L634.94,463.7 Z" stroke="none" stroke-width="1" fill="#e00000" />
<path d="M636.64,459.1 L641.74,456.1 L641.74,462.1 Z" stroke="none" stroke-width="1" fill="#e00000" />
<path d="M644.04,459.6 L649.14,456.6 L649.14,462.6 Z" stroke="none" stroke-width="1" fill="#e00000" />
<path d="M651.44,456.5 L656.54,453.5 L656.54,459.5 Z" stroke="none" stroke-width="1" fill="#e00000" />
<path d="M659.44,455.9 L664.54,452.9 L664.54,458.9 Z" stroke="none" stroke-width="1" fill="#e00000" />
<path d="M667.84,448.5 L672.94,445.5 L672.94,451.5 Z" stroke="none" stroke-width="1" fill="#e00000" />
<path d="M674.24,449.6 L679.34,446.6 L679.34,452.6 Z" stroke="none" stroke-width="1" fill="#e00000" />
<path d="M681.64,444.5 L686.74,441.5 L686.74,447.5 Z" stroke="none" stroke-width="1" fill="#e00000" />
<path d="M688.04,442.4 L693.14,439.4 L693.14,445.4 Z" stroke="none" stroke-width="1" fill="#e00000" />
<path d="M695.44,440.3 L700.54,437.3 L700.54,443.3 Z" stroke="none" stroke-width="1" fill="#e00000" />
<path d="M702.84,439.6 L707.94,436.6 L707.94,442.6 Z" stroke="none" stroke-width="1" fill="#e00000" />
<path d="M708.14,438.8 L713.24,435.8 L713.24,441.8 Z" stroke="none" stroke-width="1" fill="#e00000" />
<path d="M715.54,436.7 L720.64,433.7 L720.64,439.7 Z" stroke="none" stroke-width="1" fill="#e00000" />
<path d="M722.94,432.9 L728.04,429.9 L728.04,435.9 Z" stroke="none" stroke-width="1" fill="#e00000" />
<path d="M727.74,431.4 L732.84,428.4 L732.84,434.4 Z" stroke="none" stroke-width="1" fill="#e00000" />
<path d="M738.74,433.9 L743.84,430.9 L743.84,436.9 Z" stroke="none" stroke-width="1" fill="#e00000" />
<rect x="584" y="390.1" width="177.6" height="93.1" fill="none" stroke="#000" stroke-width="1.4"/>
<rect x="566.2" y="384.6" width="373.8" height="247.6" fill="none" stroke="#000" stroke-width="1.4"/>
</svg></body></html>
